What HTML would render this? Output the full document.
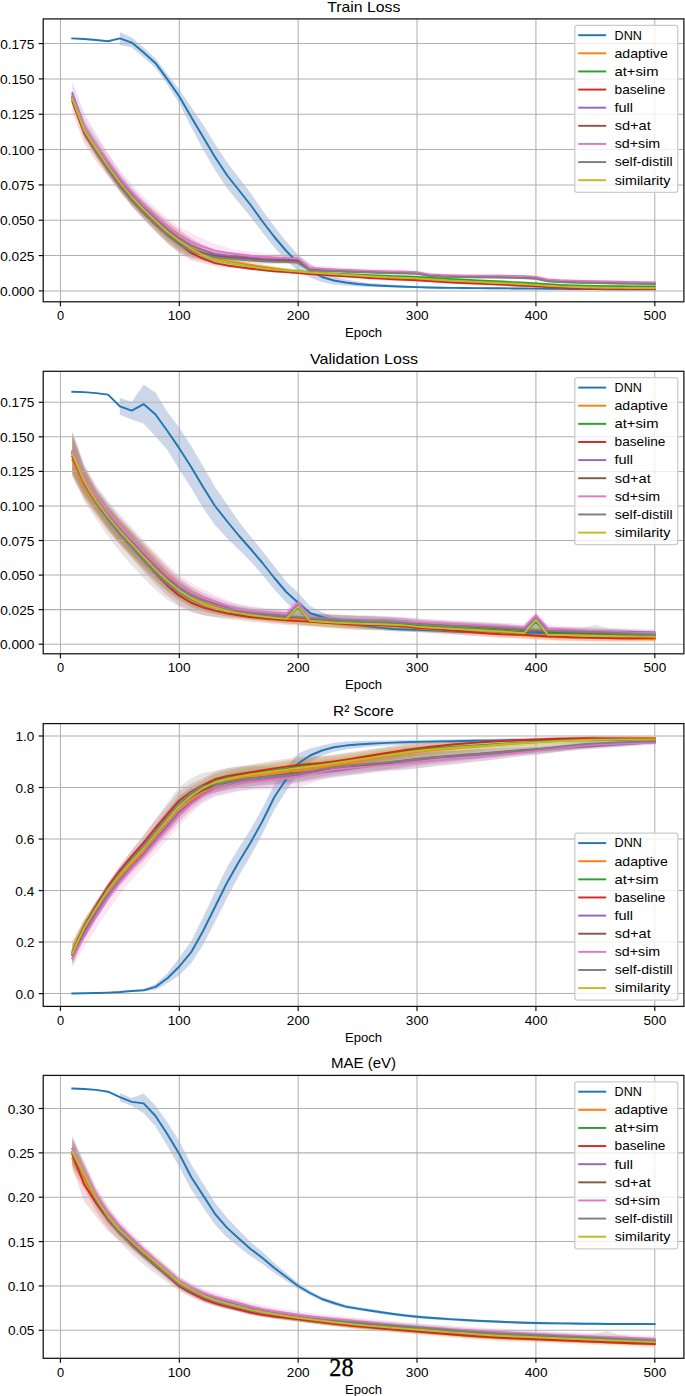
<!DOCTYPE html>
<html><head><meta charset="utf-8"><style>
html,body{margin:0;padding:0;background:#fff;overflow:hidden;width:685px;height:1396px;}
svg{display:block;}
text{font-family:"Liberation Sans",sans-serif;fill:#000;}
.g{stroke:#b0b0b0;stroke-width:1.04;}
.l{stroke-width:1.95;stroke-linejoin:round;stroke-linecap:square;fill:none;}
.sp{fill:none;stroke:#111;stroke-width:1.25;}
.t{stroke:#111;stroke-width:1.2;}
.lg{fill:#fff;fill-opacity:0.8;stroke:#cccccc;stroke-width:1.3;}
text.pn{font-family:"Liberation Serif",serif;}
</style></head><body>
<svg width="685" height="1396" viewBox="0 0 685 1396">
<rect width="685" height="1396" fill="#fff"/>
<clipPath id="c0"><rect x="43.2" y="18.9" width="640.7" height="282.9"/></clipPath>
<g clip-path="url(#c0)">
<polygon points="119.87,31.9 131.76,37.6 143.65,47.5 155.53,58.6 167.42,74.1 179.31,89.5 191.19,107 203.08,124.5 214.97,144 226.86,162 238.74,177.5 250.63,193 262.52,210.5 274.4,226.5 286.29,241.5 298.18,255 310.06,263.5 321.95,272 333.84,276.5 345.72,279.5 357.61,281.59 369.5,283 381.38,284.01 393.27,284.86 405.16,285.58 417.04,286.1 428.93,286.47 440.82,286.74 452.7,286.93 464.59,287.09 476.48,287.22 488.36,287.34 500.25,287.45 512.14,287.55 524.03,287.65 535.91,287.76 547.8,287.88 559.69,288 571.57,288.12 583.46,288.22 595.35,288.29 607.23,288.35 619.12,288.4 631.01,288.45 642.89,288.48 654.78,288.5 654.78,290.1 642.89,290.08 631.01,290.05 619.12,290.01 607.23,289.96 595.35,289.91 583.46,289.84 571.57,289.75 559.69,289.65 547.8,289.54 535.91,289.44 524.03,289.35 512.14,289.27 500.25,289.19 488.36,289.11 476.48,289.02 464.59,288.92 452.7,288.8 440.82,288.66 428.93,288.42 417.04,288.1 405.16,287.79 393.27,287.54 381.38,287.32 369.5,287 357.61,286.41 345.72,285.5 333.84,284.5 321.95,282 310.06,277.5 298.18,271 286.29,260.5 274.4,247.5 262.52,232.5 250.63,217 238.74,202.5 226.86,188 214.97,170 203.08,149.5 191.19,127 179.31,103.5 167.42,84.7 155.53,67.8 143.65,57.5 131.76,47.6 119.87,44.9" fill="#cdd7ea"/>
<polygon points="72.33,93.8 84.21,124.28 96.1,142.4 107.99,160.25 119.87,177 131.76,190.86 143.65,201.82 155.53,211.48 167.42,220.94 179.31,229.6 191.19,238.71 203.08,247.49 214.97,254.3 226.86,257.61 238.74,259.95 250.63,262.25 262.52,264.26 274.4,266.13 286.29,268.03 298.18,269.5 310.06,270.68 321.95,271.61 333.84,272.45 345.72,273.3 357.61,274.15 369.5,274.96 381.38,275.71 393.27,276.36 405.16,276.87 417.04,277.4 428.93,278.24 440.82,279.16 452.7,279.93 464.59,280.64 476.48,281.31 488.36,281.95 500.25,282.59 512.14,283.23 524.03,283.9 535.91,284.61 547.8,285.43 559.69,286.13 571.57,286.56 583.46,286.91 595.35,287.18 607.23,287.38 619.12,287.52 631.01,287.63 642.89,287.7 654.78,287.7 654.78,290.1 642.89,290.1 631.01,290.04 619.12,289.94 607.23,289.81 595.35,289.63 583.46,289.37 571.57,289.05 559.69,288.65 547.8,287.97 535.91,287.19 524.03,286.51 512.14,285.88 500.25,285.28 488.36,284.68 476.48,284.08 464.59,283.45 452.7,282.79 440.82,282.07 428.93,281.2 417.04,280.4 405.16,279.92 393.27,279.47 381.38,278.89 369.5,278.22 357.61,277.49 345.72,276.75 333.84,276.01 321.95,275.3 310.06,274.51 298.18,273.5 286.29,272.3 274.4,270.8 262.52,269.34 250.63,267.71 238.74,265.95 226.86,264.83 214.97,263.3 203.08,259.11 191.19,253.29 179.31,245.6 167.42,236.63 155.53,226.43 143.65,215.87 131.76,204.17 119.87,190 107.99,173.75 96.1,156.4 84.21,137.72 72.33,105.8" fill="#ff7f0e" fill-opacity="0.18"/>
<polygon points="72.33,90.5 84.21,121.35 96.1,139.82 107.99,157.98 119.87,175 131.76,189.61 143.65,202 155.53,213.3 167.42,224.09 179.31,233.3 191.19,241.71 203.08,249.19 214.97,255.3 226.86,258.69 238.74,261.2 250.63,263.67 262.52,265.76 274.4,267.27 286.29,268.46 298.18,269.5 310.06,270.54 321.95,271.29 333.84,271.9 345.72,272.49 357.61,273.08 369.5,273.64 381.38,274.15 393.27,274.6 405.16,274.95 417.04,275.4 428.93,276.19 440.82,277.06 452.7,277.77 464.59,278.43 476.48,279.05 488.36,279.65 500.25,280.24 512.14,280.86 524.03,281.51 535.91,282.21 547.8,283.02 559.69,283.73 571.57,284.15 583.46,284.49 595.35,284.75 607.23,284.95 619.12,285.09 631.01,285.21 642.89,285.28 654.78,285.3 654.78,287.7 642.89,287.68 631.01,287.61 619.12,287.51 607.23,287.38 595.35,287.2 583.46,286.95 571.57,286.64 559.69,286.24 547.8,285.57 535.91,284.79 524.03,284.12 512.14,283.51 500.25,282.93 488.36,282.37 476.48,281.81 464.59,281.24 452.7,280.63 440.82,279.96 428.93,279.14 417.04,278.4 405.16,278.01 393.27,277.71 381.38,277.33 369.5,276.89 357.61,276.42 345.72,275.94 333.84,275.46 321.95,274.97 310.06,274.38 298.18,273.5 286.29,272.74 274.4,271.93 262.52,270.84 250.63,269.13 238.74,267.2 226.86,265.91 214.97,264.3 203.08,260.81 191.19,256.29 179.31,249.3 167.42,239.78 155.53,228.24 143.65,216.06 131.76,202.92 119.87,188 107.99,171.48 96.1,153.82 84.21,134.79 72.33,102.5" fill="#2ca02c" fill-opacity="0.18"/>
<polygon points="72.33,95.4 84.21,126.45 96.1,144.9 107.99,162.89 119.87,179.7 131.76,194.02 143.65,206.07 155.53,217.03 167.42,227.38 179.31,236.3 191.19,245.71 203.08,252.91 214.97,258.6 226.86,261.8 238.74,264.1 250.63,265.99 262.52,267.56 274.4,268.91 286.29,270 298.18,271 310.06,272.09 321.95,272.97 333.84,273.79 345.72,274.63 357.61,275.48 369.5,276.3 381.38,277.06 393.27,277.71 405.16,278.2 417.04,278.7 428.93,279.49 440.82,280.33 452.7,281.01 464.59,281.63 476.48,282.2 488.36,282.75 500.25,283.29 512.14,283.85 524.03,284.45 535.91,285.11 547.8,285.88 559.69,286.54 571.57,286.92 583.46,287.22 595.35,287.45 607.23,287.61 619.12,287.71 631.01,287.79 642.89,287.82 654.78,287.8 654.78,290.2 642.89,290.22 631.01,290.19 619.12,290.13 607.23,290.04 595.35,289.9 583.46,289.69 571.57,289.41 559.69,289.06 547.8,288.43 535.91,287.69 524.03,287.07 512.14,286.5 500.25,285.98 488.36,285.47 476.48,284.97 464.59,284.44 452.7,283.87 440.82,283.23 428.93,282.44 417.04,281.7 405.16,281.26 393.27,280.82 381.38,280.24 369.5,279.56 357.61,278.82 345.72,278.03 333.84,277.2 321.95,276.36 310.06,275.43 298.18,274.29 286.29,273.35 274.4,272.44 262.52,271.37 250.63,270.13 238.74,268.74 226.86,267.56 214.97,266.03 203.08,263.32 191.19,260.27 179.31,253.1 167.42,243.61 155.53,231.93 143.65,219.47 131.76,206.2 119.87,191.4 107.99,176.54 96.1,161.35 84.21,143.56 72.33,111.6" fill="#d62728" fill-opacity="0.18"/>
<polygon points="72.33,81.3 84.21,113.52 96.1,133.5 107.99,153.43 119.87,171.86 131.76,186.96 143.65,199.41 155.53,210.68 167.42,221.35 179.31,230.3 191.19,238.05 203.08,244.49 214.97,249.5 226.86,251.79 238.74,253.2 250.63,254.67 262.52,255.86 274.4,256.46 286.29,256.83 298.18,257.5 310.06,266.78 321.95,267.58 333.84,268.21 345.72,268.78 357.61,269.32 369.5,269.82 381.38,270.26 393.27,270.66 405.16,270.97 417.04,271.4 428.93,273.69 440.82,274.43 452.7,274.81 464.59,274.98 476.48,275.04 488.36,275.04 500.25,275.07 512.14,275.21 524.03,275.53 535.91,276.11 547.8,278.93 559.69,279.77 571.57,280.32 583.46,280.77 595.35,281.13 607.23,281.41 619.12,281.62 631.01,281.8 642.89,281.93 654.78,282 654.78,284.4 642.89,284.33 631.01,284.21 619.12,284.04 607.23,283.84 595.35,283.58 583.46,283.23 571.57,282.81 559.69,282.29 547.8,281.47 535.91,278.69 524.03,278.14 512.14,277.86 500.25,277.76 488.36,277.77 476.48,277.8 464.59,277.8 452.7,277.66 440.82,277.33 428.93,276.64 417.04,274.4 405.16,274.02 393.27,273.77 381.38,273.44 369.5,273.07 357.61,272.66 345.72,272.23 333.84,271.76 321.95,271.27 310.06,270.62 298.18,261.5 286.29,261.1 274.4,261.13 262.52,260.94 250.63,260.13 238.74,259.2 226.86,259.01 214.97,258.5 203.08,256.11 191.19,252.64 179.31,246.3 167.42,237.17 155.53,226.07 143.65,214.34 131.76,201.61 119.87,187 107.99,170.43 96.1,152.4 84.21,132.7 72.33,99.3" fill="#9467bd" fill-opacity="0.2"/>
<polygon points="72.33,91.8 84.21,123.36 96.1,142.44 107.99,160.98 119.87,178 131.76,192.34 143.65,204.47 155.53,215.53 167.42,226.16 179.31,235.3 191.19,242.49 203.08,247.42 214.97,251.3 226.86,253.33 238.74,254.7 250.63,256.15 262.52,257.36 274.4,257.96 286.29,258.33 298.18,259 310.06,267.58 321.95,268.37 333.84,268.97 345.72,269.5 357.61,270 369.5,270.44 381.38,270.84 393.27,271.2 405.16,271.48 417.04,271.9 428.93,273.89 440.82,274.64 452.7,275.05 464.59,275.26 476.48,275.36 488.36,275.42 500.25,275.5 512.14,275.67 524.03,276.02 535.91,276.61 547.8,279.43 559.69,280.2 571.57,280.68 583.46,281.08 595.35,281.4 607.23,281.65 619.12,281.84 631.01,282.01 642.89,282.13 654.78,282.2 654.78,284.6 642.89,284.53 631.01,284.41 619.12,284.26 607.23,284.08 595.35,283.85 583.46,283.54 571.57,283.17 559.69,282.71 547.8,281.97 535.91,279.19 524.03,278.63 512.14,278.32 500.25,278.18 488.36,278.14 476.48,278.13 464.59,278.07 452.7,277.9 440.82,277.54 428.93,276.84 417.04,274.9 405.16,274.53 393.27,274.31 381.38,274.02 369.5,273.7 357.61,273.34 345.72,272.95 333.84,272.53 321.95,272.06 310.06,271.42 298.18,263 286.29,262.6 274.4,262.63 262.52,262.44 250.63,261.61 238.74,260.7 226.86,260.55 214.97,260.3 203.08,259.04 191.19,257.07 179.31,251.3 167.42,241.84 155.53,230.47 143.65,218.53 131.76,205.66 119.87,191 107.99,174.48 96.1,156.44 84.21,136.8 72.33,103.8" fill="#8c564b" fill-opacity="0.18"/>
<polygon points="72.33,89.8 84.21,119.37 96.1,136.64 107.99,153.75 119.87,170.03 131.76,184.26 143.65,196.48 155.53,207.63 167.42,218.08 179.31,226.7 191.19,233.34 203.08,238.68 214.97,243.95 226.86,247.65 238.74,250.25 250.63,251.86 262.52,253 274.4,253.93 286.29,254.65 298.18,255.5 310.06,265.14 321.95,266.07 333.84,266.93 345.72,267.68 357.61,268.25 369.5,268.7 381.38,269.11 393.27,269.55 405.16,269.94 417.04,270.4 428.93,272.62 440.82,273.39 452.7,273.83 464.59,274.07 476.48,274.19 488.36,274.27 500.25,274.37 512.14,274.56 524.03,274.93 535.91,275.53 547.8,278.16 559.69,278.89 571.57,279.34 583.46,279.72 595.35,280.02 607.23,280.26 619.12,280.46 631.01,280.7 642.89,280.97 654.78,281.2 654.78,283.6 642.89,283.37 631.01,283.11 619.12,282.88 607.23,282.71 595.35,282.49 583.46,282.21 571.57,281.87 559.69,281.46 547.8,280.77 535.91,278.19 524.03,277.63 512.14,277.32 500.25,277.18 488.36,277.14 476.48,277.13 464.59,277.07 452.7,276.9 440.82,276.54 428.93,275.84 417.04,273.7 405.16,273.33 393.27,273.06 381.38,272.75 369.5,272.49 357.61,272.21 345.72,271.83 333.84,271.28 321.95,270.63 310.06,269.92 298.18,260.5 286.29,259.99 274.4,259.77 262.52,259.34 250.63,258.45 238.74,257.3 226.86,256.41 214.97,255.2 203.08,252.45 191.19,248.87 179.31,242.7 167.42,233.89 155.53,222.97 143.65,211.22 131.76,198.47 119.87,184 107.99,168.19 96.1,151.4 84.21,133.22 72.33,101.8" fill="#e377c2" fill-opacity="0.18"/>
<polygon points="72.33,91.8 84.21,124.84 96.1,144.4 107.99,162.75 119.87,179.7 131.76,193.86 143.65,205.65 155.53,216.53 167.42,227.41 179.31,236.8 191.19,243.96 203.08,248.87 214.97,252.8 226.86,255.02 238.74,256.5 250.63,257.75 262.52,258.76 274.4,259.37 286.29,259.79 298.18,260.5 310.06,268.28 321.95,268.87 333.84,269.22 345.72,269.71 357.61,270.22 369.5,270.71 381.38,271.16 393.27,271.54 405.16,271.76 417.04,272.1 428.93,274.19 440.82,274.96 452.7,275.41 464.59,275.69 476.48,275.87 488.36,276.01 500.25,276.17 512.14,276.41 524.03,276.8 535.91,277.41 547.8,280.03 559.69,280.74 571.57,281.18 583.46,281.54 595.35,281.84 607.23,282.08 619.12,282.26 631.01,282.41 642.89,282.53 654.78,282.6 654.78,285 642.89,284.93 631.01,284.82 619.12,284.67 607.23,284.51 595.35,284.29 583.46,284.01 571.57,283.67 559.69,283.26 547.8,282.57 535.91,279.99 524.03,279.42 512.14,279.06 500.25,278.85 488.36,278.73 476.48,278.64 464.59,278.5 452.7,278.27 440.82,277.86 428.93,277.14 417.04,275.1 405.16,274.81 393.27,274.66 381.38,274.34 369.5,273.97 357.61,273.56 345.72,273.16 333.84,272.78 321.95,272.56 310.06,272.12 298.18,264.5 286.29,264.06 274.4,264.03 262.52,263.84 250.63,263.21 238.74,262.5 226.86,262.25 214.97,261.8 203.08,260.48 191.19,258.55 179.31,252.8 167.42,242.93 155.53,230.95 143.65,218.8 131.76,205.98 119.87,191.4 107.99,175 96.1,157.39 84.21,137.73 72.33,103.8" fill="#7f7f7f" fill-opacity="0.2"/>
<polygon points="72.33,92.8 84.21,123.28 96.1,141.4 107.99,159.25 119.87,176 131.76,190.34 143.65,202.47 155.53,213.53 167.42,224.16 179.31,233.3 191.19,241.71 203.08,249.19 214.97,255.3 226.86,258.69 238.74,261.2 250.63,263.67 262.52,265.76 274.4,267.27 286.29,268.46 298.18,269.5 310.06,270.58 321.95,271.44 333.84,272.22 345.72,273.02 357.61,273.83 369.5,274.61 381.38,275.32 393.27,275.94 405.16,276.41 417.04,276.9 428.93,277.69 440.82,278.55 452.7,279.25 464.59,279.89 476.48,280.5 488.36,281.08 500.25,281.67 512.14,282.27 524.03,282.91 535.91,283.61 547.8,284.43 559.69,285.14 571.57,285.58 583.46,285.94 595.35,286.24 607.23,286.48 619.12,286.66 631.01,286.81 642.89,286.93 654.78,287 654.78,289.4 642.89,289.33 631.01,289.22 619.12,289.07 607.23,288.91 595.35,288.69 583.46,288.41 571.57,288.07 559.69,287.66 547.8,286.97 535.91,286.19 524.03,285.52 512.14,284.92 500.25,284.35 488.36,283.81 476.48,283.26 464.59,282.7 452.7,282.11 440.82,281.45 428.93,280.64 417.04,279.9 405.16,279.46 393.27,279.06 381.38,278.5 369.5,277.86 357.61,277.17 345.72,276.47 333.84,275.78 321.95,275.13 310.06,274.42 298.18,273.5 286.29,272.74 274.4,271.93 262.52,270.84 250.63,269.13 238.74,267.2 226.86,265.91 214.97,264.3 203.08,260.81 191.19,256.29 179.31,249.3 167.42,239.84 155.53,228.47 143.65,216.53 131.76,203.66 119.87,189 107.99,172.75 96.1,155.4 84.21,136.72 72.33,104.8" fill="#bcbd22" fill-opacity="0.18"/>
<line x1="60.44" y1="18.9" x2="60.44" y2="301.8" class="g"/>
<line x1="179.31" y1="18.9" x2="179.31" y2="301.8" class="g"/>
<line x1="298.18" y1="18.9" x2="298.18" y2="301.8" class="g"/>
<line x1="417.04" y1="18.9" x2="417.04" y2="301.8" class="g"/>
<line x1="535.91" y1="18.9" x2="535.91" y2="301.8" class="g"/>
<line x1="654.78" y1="18.9" x2="654.78" y2="301.8" class="g"/>
<line x1="43.2" y1="290.9" x2="683.9" y2="290.9" class="g"/>
<line x1="43.2" y1="255.57" x2="683.9" y2="255.57" class="g"/>
<line x1="43.2" y1="220.24" x2="683.9" y2="220.24" class="g"/>
<line x1="43.2" y1="184.91" x2="683.9" y2="184.91" class="g"/>
<line x1="43.2" y1="149.58" x2="683.9" y2="149.58" class="g"/>
<line x1="43.2" y1="114.25" x2="683.9" y2="114.25" class="g"/>
<line x1="43.2" y1="78.92" x2="683.9" y2="78.92" class="g"/>
<line x1="43.2" y1="43.59" x2="683.9" y2="43.59" class="g"/>
<polyline points="72.33,38.4 84.21,39 96.1,40 107.99,41.2 119.87,38.4 131.76,42.6 143.65,52.5 155.53,63.2 167.42,79.4 179.31,96.5 191.19,117 203.08,137 214.97,157 226.86,175 238.74,190 250.63,205 262.52,221.5 274.4,237 286.29,251 298.18,263 310.06,270.5 321.95,277 333.84,280.5 345.72,282.5 357.61,284 369.5,285 381.38,285.66 393.27,286.2 405.16,286.69 417.04,287.1 428.93,287.45 440.82,287.7 452.7,287.86 464.59,288 476.48,288.12 488.36,288.22 500.25,288.32 512.14,288.41 524.03,288.5 535.91,288.6 547.8,288.71 559.69,288.82 571.57,288.93 583.46,289.03 595.35,289.1 607.23,289.16 619.12,289.21 631.01,289.25 642.89,289.28 654.78,289.3" fill="none" stroke="#1f77b4" class="l"/>
<polyline points="72.33,99.8 84.21,131 96.1,149.4 107.99,167 119.87,183.5 131.76,197.51 143.65,208.85 155.53,218.95 167.42,228.79 179.31,237.6 191.19,246 203.08,253.3 214.97,258.8 226.86,261.22 238.74,262.95 250.63,264.98 262.52,266.8 274.4,268.47 286.29,270.16 298.18,271.5 310.06,272.6 321.95,273.46 333.84,274.23 345.72,275.03 357.61,275.82 369.5,276.59 381.38,277.3 393.27,277.92 405.16,278.39 417.04,278.9 428.93,279.72 440.82,280.62 452.7,281.36 464.59,282.05 476.48,282.69 488.36,283.32 500.25,283.93 512.14,284.56 524.03,285.21 535.91,285.9 547.8,286.7 559.69,287.39 571.57,287.8 583.46,288.14 595.35,288.4 607.23,288.6 619.12,288.73 631.01,288.84 642.89,288.9 654.78,288.9" fill="none" stroke="#ff7f0e" class="l"/>
<polyline points="72.33,96.5 84.21,128.07 96.1,146.82 107.99,164.73 119.87,181.5 131.76,196.26 143.65,209.03 155.53,220.77 167.42,231.94 179.31,241.3 191.19,249 203.08,255 214.97,259.8 226.86,262.3 238.74,264.2 250.63,266.4 262.52,268.3 274.4,269.6 286.29,270.6 298.18,271.5 310.06,272.46 321.95,273.13 333.84,273.68 345.72,274.22 357.61,274.75 369.5,275.26 381.38,275.74 393.27,276.16 405.16,276.48 417.04,276.9 428.93,277.67 440.82,278.51 452.7,279.2 464.59,279.83 476.48,280.43 488.36,281.01 500.25,281.59 512.14,282.18 524.03,282.81 535.91,283.5 547.8,284.3 559.69,284.98 571.57,285.39 583.46,285.72 595.35,285.98 607.23,286.17 619.12,286.3 631.01,286.41 642.89,286.48 654.78,286.5" fill="none" stroke="#2ca02c" class="l"/>
<polyline points="72.33,101.4 84.21,133.17 96.1,151.9 107.99,169.64 119.87,186.2 131.76,200.67 143.65,213.1 155.53,224.5 167.42,235.22 179.31,244.3 191.19,253 203.08,258.71 214.97,263.1 226.86,265.41 238.74,267.1 250.63,268.72 262.52,270.1 274.4,271.24 286.29,272.14 298.18,273 310.06,274.01 321.95,274.82 333.84,275.56 345.72,276.35 357.61,277.15 369.5,277.93 381.38,278.65 393.27,279.27 405.16,279.73 417.04,280.2 428.93,280.96 440.82,281.78 452.7,282.44 464.59,283.03 476.48,283.58 488.36,284.11 500.25,284.64 512.14,285.18 524.03,285.76 535.91,286.4 547.8,287.15 559.69,287.8 571.57,288.17 583.46,288.46 595.35,288.67 607.23,288.83 619.12,288.92 631.01,288.99 642.89,289.02 654.78,289" fill="none" stroke="#d62728" class="l"/>
<polyline points="72.33,93.3 84.21,125.98 96.1,145.4 107.99,163.68 119.87,180.5 131.76,194.95 143.65,207.32 155.53,218.6 167.42,229.33 179.31,238.3 191.19,245.34 203.08,250.3 214.97,254 226.86,255.4 238.74,256.2 250.63,257.4 262.52,258.4 274.4,258.79 286.29,258.96 298.18,259.5 310.06,268.7 321.95,269.43 333.84,269.99 345.72,270.5 357.61,270.99 369.5,271.44 381.38,271.85 393.27,272.21 405.16,272.5 417.04,272.9 428.93,275.17 440.82,275.88 452.7,276.24 464.59,276.39 476.48,276.42 488.36,276.4 500.25,276.42 512.14,276.53 524.03,276.84 535.91,277.4 547.8,280.2 559.69,281.03 571.57,281.56 583.46,282 595.35,282.35 607.23,282.63 619.12,282.83 631.01,283 642.89,283.13 654.78,283.2" fill="none" stroke="#9467bd" class="l"/>
<polyline points="72.33,97.8 84.21,130.08 96.1,149.44 107.99,167.73 119.87,184.5 131.76,199 143.65,211.5 155.53,223 167.42,234 179.31,243.3 191.19,249.78 203.08,253.23 214.97,255.8 226.86,256.94 238.74,257.7 250.63,258.88 262.52,259.9 274.4,260.29 286.29,260.46 298.18,261 310.06,269.5 321.95,270.22 333.84,270.75 345.72,271.23 357.61,271.67 369.5,272.07 381.38,272.43 393.27,272.75 405.16,273.01 417.04,273.4 428.93,275.37 440.82,276.09 452.7,276.47 464.59,276.67 476.48,276.75 488.36,276.78 500.25,276.84 512.14,277 524.03,277.33 535.91,277.9 547.8,280.7 559.69,281.45 571.57,281.92 583.46,282.31 595.35,282.62 607.23,282.87 619.12,283.05 631.01,283.21 642.89,283.33 654.78,283.4" fill="none" stroke="#8c564b" class="l"/>
<polyline points="72.33,95.8 84.21,126.5 96.1,144.4 107.99,161.44 119.87,177.5 131.76,191.81 143.65,204.19 155.53,215.5 167.42,226.05 179.31,234.7 191.19,241.58 203.08,246.64 214.97,250.7 226.86,252.8 238.74,254.3 250.63,255.72 262.52,256.8 274.4,257.43 286.29,257.85 298.18,258.5 310.06,268 321.95,268.79 333.84,269.5 345.72,270.11 357.61,270.54 369.5,270.86 381.38,271.16 393.27,271.5 405.16,271.8 417.04,272.2 428.93,274.37 440.82,275.09 452.7,275.47 464.59,275.67 476.48,275.75 488.36,275.78 500.25,275.84 512.14,276 524.03,276.33 535.91,276.9 547.8,279.5 559.69,280.2 571.57,280.63 583.46,280.98 595.35,281.26 607.23,281.49 619.12,281.67 631.01,281.91 642.89,282.17 654.78,282.4" fill="none" stroke="#e377c2" class="l"/>
<polyline points="72.33,97.8 84.21,131.56 96.1,151.4 107.99,169.5 119.87,186.2 131.76,200.52 143.65,212.68 155.53,224 167.42,235.25 179.31,244.8 191.19,251.25 203.08,254.67 214.97,257.3 226.86,258.63 238.74,259.5 250.63,260.48 262.52,261.3 274.4,261.7 286.29,261.93 298.18,262.5 310.06,270.2 321.95,270.71 333.84,271 345.72,271.43 357.61,271.89 369.5,272.34 381.38,272.75 393.27,273.1 405.16,273.28 417.04,273.6 428.93,275.67 440.82,276.41 452.7,276.84 464.59,277.1 476.48,277.25 488.36,277.37 500.25,277.51 512.14,277.73 524.03,278.11 535.91,278.7 547.8,281.3 559.69,282 571.57,282.43 583.46,282.78 595.35,283.06 607.23,283.29 619.12,283.47 631.01,283.62 642.89,283.73 654.78,283.8" fill="none" stroke="#7f7f7f" class="l"/>
<polyline points="72.33,98.8 84.21,130 96.1,148.4 107.99,166 119.87,182.5 131.76,197 143.65,209.5 155.53,221 167.42,232 179.31,241.3 191.19,249 203.08,255 214.97,259.8 226.86,262.3 238.74,264.2 250.63,266.4 262.52,268.3 274.4,269.6 286.29,270.6 298.18,271.5 310.06,272.5 321.95,273.29 333.84,274 345.72,274.74 357.61,275.5 369.5,276.23 381.38,276.91 393.27,277.5 405.16,277.94 417.04,278.4 428.93,279.17 440.82,280 452.7,280.68 464.59,281.3 476.48,281.88 488.36,282.44 500.25,283.01 512.14,283.59 524.03,284.22 535.91,284.9 547.8,285.7 559.69,286.4 571.57,286.83 583.46,287.18 595.35,287.46 607.23,287.69 619.12,287.87 631.01,288.02 642.89,288.13 654.78,288.2" fill="none" stroke="#bcbd22" class="l"/>
</g>
<rect x="43.2" y="18.9" width="640.7" height="282.9" class="sp"/>
<line x1="60.44" y1="301.8" x2="60.44" y2="306.35" class="t"/>
<text x="56.96" y="320" font-size="12.93" textLength="7.15" lengthAdjust="spacingAndGlyphs">0</text>
<line x1="179.31" y1="301.8" x2="179.31" y2="306.35" class="t"/>
<text x="167.8" y="320" font-size="12.93" textLength="22.7" lengthAdjust="spacingAndGlyphs">100</text>
<line x1="298.18" y1="301.8" x2="298.18" y2="306.35" class="t"/>
<text x="286.8" y="320" font-size="12.93" textLength="22.8" lengthAdjust="spacingAndGlyphs">200</text>
<line x1="417.04" y1="301.8" x2="417.04" y2="306.35" class="t"/>
<text x="405.86" y="320" font-size="12.93" textLength="22.59" lengthAdjust="spacingAndGlyphs">300</text>
<line x1="535.91" y1="301.8" x2="535.91" y2="306.35" class="t"/>
<text x="524.76" y="320" font-size="12.93" textLength="22.72" lengthAdjust="spacingAndGlyphs">400</text>
<line x1="654.78" y1="301.8" x2="654.78" y2="306.35" class="t"/>
<text x="643.57" y="320" font-size="12.93" textLength="22.61" lengthAdjust="spacingAndGlyphs">500</text>
<line x1="38.65" y1="290.9" x2="43.2" y2="290.9" class="t"/>
<text x="-0.05" y="295.9" font-size="12.93" textLength="34.39" lengthAdjust="spacingAndGlyphs">0.000</text>
<line x1="38.65" y1="255.57" x2="43.2" y2="255.57" class="t"/>
<text x="0.21" y="260.57" font-size="12.93" textLength="34.16" lengthAdjust="spacingAndGlyphs">0.025</text>
<line x1="38.65" y1="220.24" x2="43.2" y2="220.24" class="t"/>
<text x="-0.05" y="225.24" font-size="12.93" textLength="34.39" lengthAdjust="spacingAndGlyphs">0.050</text>
<line x1="38.65" y1="184.91" x2="43.2" y2="184.91" class="t"/>
<text x="0.21" y="189.91" font-size="12.93" textLength="34.16" lengthAdjust="spacingAndGlyphs">0.075</text>
<line x1="38.65" y1="149.58" x2="43.2" y2="149.58" class="t"/>
<text x="-0.05" y="154.58" font-size="12.93" textLength="34.39" lengthAdjust="spacingAndGlyphs">0.100</text>
<line x1="38.65" y1="114.25" x2="43.2" y2="114.25" class="t"/>
<text x="0.21" y="119.25" font-size="12.93" textLength="34.16" lengthAdjust="spacingAndGlyphs">0.125</text>
<line x1="38.65" y1="78.92" x2="43.2" y2="78.92" class="t"/>
<text x="-0.05" y="83.92" font-size="12.93" textLength="34.39" lengthAdjust="spacingAndGlyphs">0.150</text>
<line x1="38.65" y1="43.59" x2="43.2" y2="43.59" class="t"/>
<text x="0.21" y="48.59" font-size="12.93" textLength="34.16" lengthAdjust="spacingAndGlyphs">0.175</text>
<text x="345.07" y="337.1" font-size="12.93" textLength="37.04" lengthAdjust="spacingAndGlyphs">Epoch</text>
<text x="327.26" y="11.5" font-size="15.21" textLength="73.09" lengthAdjust="spacingAndGlyphs">Train Loss</text>
<rect x="574.8" y="25.3" width="103" height="167" rx="2.6" class="lg"/>
<line x1="579.2" y1="35.2" x2="605.2" y2="35.2" stroke="#1f77b4" class="l"/>
<text x="614.56" y="39.5" font-size="12.93" textLength="27.31" lengthAdjust="spacingAndGlyphs">DNN</text>
<line x1="579.2" y1="53.32" x2="605.2" y2="53.32" stroke="#ff7f0e" class="l"/>
<text x="614.54" y="57.62" font-size="12.93" textLength="53.18" lengthAdjust="spacingAndGlyphs">adaptive</text>
<line x1="579.2" y1="71.45" x2="605.2" y2="71.45" stroke="#2ca02c" class="l"/>
<text x="614.5" y="75.75" font-size="12.93" textLength="43.94" lengthAdjust="spacingAndGlyphs">at+sim</text>
<line x1="579.2" y1="89.57" x2="605.2" y2="89.57" stroke="#d62728" class="l"/>
<text x="614.63" y="93.87" font-size="12.93" textLength="50.83" lengthAdjust="spacingAndGlyphs">baseline</text>
<line x1="579.2" y1="107.7" x2="605.2" y2="107.7" stroke="#9467bd" class="l"/>
<text x="614.47" y="112" font-size="12.93" textLength="18.56" lengthAdjust="spacingAndGlyphs">full</text>
<line x1="579.2" y1="125.82" x2="605.2" y2="125.82" stroke="#8c564b" class="l"/>
<text x="614.65" y="130.12" font-size="12.93" textLength="36.14" lengthAdjust="spacingAndGlyphs">sd+at</text>
<line x1="579.2" y1="143.95" x2="605.2" y2="143.95" stroke="#e377c2" class="l"/>
<text x="614.66" y="148.25" font-size="12.93" textLength="45.59" lengthAdjust="spacingAndGlyphs">sd+sim</text>
<line x1="579.2" y1="162.07" x2="605.2" y2="162.07" stroke="#7f7f7f" class="l"/>
<text x="614.67" y="166.38" font-size="12.93" textLength="57.92" lengthAdjust="spacingAndGlyphs">self-distill</text>
<line x1="579.2" y1="180.2" x2="605.2" y2="180.2" stroke="#bcbd22" class="l"/>
<text x="614.66" y="184.5" font-size="12.93" textLength="55.7" lengthAdjust="spacingAndGlyphs">similarity</text>
<clipPath id="c1"><rect x="43.2" y="371.3" width="640.7" height="282.5"/></clipPath>
<g clip-path="url(#c1)">
<polygon points="119.87,397.9 131.76,402 143.65,384.4 155.53,392.5 167.42,412 179.31,427.4 191.19,446 203.08,466 214.97,487 226.86,504 238.74,521.5 250.63,536.5 262.52,551 274.4,566.5 286.29,581.5 298.18,592.8 310.06,606 321.95,612 333.84,617 345.72,619.9 357.61,622 369.5,623.78 381.38,625.44 393.27,626.74 405.16,627.48 417.04,627.9 428.93,628.39 440.82,628.96 452.7,629.56 464.59,630.12 476.48,630.61 488.36,630.95 500.25,631.1 512.14,630.93 524.03,630.76 535.91,631.18 547.8,631.7 559.69,632.12 571.57,632.53 583.46,632.91 595.35,633.27 607.23,633.6 619.12,633.9 631.01,634.15 642.89,634.35 654.78,634.5 654.78,637.5 642.89,637.35 631.01,637.16 619.12,636.92 607.23,636.64 595.35,636.33 583.46,636 571.57,635.64 559.69,635.27 547.8,634.9 535.91,634.42 524.03,634.04 512.14,634.27 500.25,634.5 488.36,634.42 476.48,634.15 464.59,633.75 452.7,633.27 440.82,632.76 428.93,632.29 417.04,631.9 405.16,631.66 393.27,631.23 381.38,630.35 369.5,629.2 357.61,628 345.72,626.7 333.84,625 321.95,622 310.06,620 298.18,612.8 286.29,602.5 274.4,589.5 262.52,575 250.63,561.5 238.74,549.5 226.86,538 214.97,525 203.08,508 191.19,488 179.31,469.4 167.42,450 155.53,436.5 143.65,423.8 131.76,419.4 119.87,414.7" fill="#cdd7ea"/>
<polygon points="72.33,440 84.21,472.5 96.1,492.71 107.99,507.28 119.87,520.13 131.76,531.05 143.65,542.06 155.53,553.61 167.42,566.16 179.31,578.2 191.19,587.05 203.08,594.02 214.97,599.36 226.86,603.99 238.74,607.17 250.63,609.52 262.52,611.38 274.4,612.97 286.29,614.3 298.18,615.16 310.06,616.48 321.95,617.43 333.84,618.26 345.72,618.99 357.61,619.66 369.5,620.3 381.38,620.96 393.27,621.71 405.16,622.74 417.04,624.2 428.93,625.18 440.82,626.02 452.7,626.78 464.59,627.49 476.48,628.2 488.36,628.96 500.25,629.81 512.14,630.85 524.03,631.88 535.91,632.68 547.8,633.47 559.69,633.9 571.57,634.24 583.46,634.53 595.35,634.8 607.23,635.1 619.12,635.39 631.01,635.67 642.89,635.94 654.78,636.2 654.78,642.2 642.89,642.04 631.01,641.87 619.12,641.69 607.23,641.5 595.35,641.3 583.46,641.13 571.57,640.94 559.69,640.7 547.8,640.37 535.91,639.68 524.03,638.98 512.14,638.03 500.25,637.06 488.36,636.29 476.48,635.61 464.59,634.99 452.7,634.37 440.82,633.73 428.93,633.02 417.04,632.2 405.16,631.06 393.27,630.54 381.38,630.34 369.5,630.12 357.61,629.66 345.72,628.91 333.84,628 321.95,626.93 310.06,625.74 298.18,624.24 286.29,623.3 274.4,622.04 262.52,620.65 250.63,619.1 238.74,617.17 226.86,615.22 214.97,612.6 203.08,609.17 191.19,604.24 179.31,597.2 167.42,586.8 155.53,575.88 143.65,565.57 131.76,555.05 119.87,543.87 107.99,530.54 96.1,515.71 84.21,499.72 72.33,477" fill="#ff7f0e" fill-opacity="0.18"/>
<polygon points="72.33,432.7 84.21,466.56 96.1,488.12 107.99,504.04 119.87,518.36 131.76,531.28 143.65,544.59 155.53,557.76 167.42,570.12 179.31,580.6 191.19,588.96 203.08,595.55 214.97,600.57 226.86,604.94 238.74,607.92 250.63,610.08 262.52,611.79 274.4,613.23 286.29,614.39 298.18,603.06 310.06,616.14 321.95,616.82 333.84,617.33 345.72,617.74 357.61,618.1 369.5,618.44 381.38,618.83 393.27,619.37 405.16,620.24 417.04,621.6 428.93,622.51 440.82,623.29 452.7,623.98 464.59,624.62 476.48,625.28 488.36,625.98 500.25,626.77 512.14,627.77 524.03,628.75 535.91,618.5 547.8,630.26 559.69,630.68 571.57,631.01 583.46,631.31 595.35,631.62 607.23,631.95 619.12,632.3 631.01,632.64 642.89,632.97 654.78,633.3 654.78,639.3 642.89,639.07 631.01,638.84 619.12,638.6 607.23,638.35 595.35,638.12 583.46,637.91 571.57,637.71 559.69,637.48 547.8,637.16 535.91,636.5 524.03,635.85 512.14,634.95 500.25,634.03 488.36,633.31 476.48,632.69 464.59,632.12 452.7,631.57 440.82,631 428.93,630.35 417.04,629.6 405.16,628.56 393.27,628.19 381.38,628.21 369.5,628.26 357.61,628.1 345.72,627.67 333.84,627.07 321.95,626.32 310.06,625.4 298.18,624.14 286.29,623.39 274.4,622.3 262.52,621.06 250.63,619.67 238.74,617.92 226.86,616.17 214.97,613.8 203.08,610.69 191.19,606.15 179.31,599.6 167.42,590.77 155.53,580.03 143.65,568.09 131.76,555.28 119.87,542.1 107.99,527.3 96.1,511.12 84.21,494.56 72.33,472.7" fill="#2ca02c" fill-opacity="0.18"/>
<polygon points="72.33,436.7 84.21,469.82 96.1,491 107.99,506.87 119.87,521.13 131.76,534.04 143.65,547.93 155.53,562.08 167.42,575.35 179.31,586.2 191.19,594.15 203.08,599.89 214.97,604.03 226.86,607.78 238.74,610.3 250.63,612.15 262.52,613.58 274.4,614.82 286.29,615.9 298.18,616.56 310.06,616.87 321.95,617.68 333.84,618.45 345.72,619.13 357.61,619.7 369.5,620.19 381.38,620.71 393.27,621.36 405.16,622.31 417.04,623.7 428.93,624.71 440.82,625.75 452.7,626.79 464.59,627.82 476.48,628.82 488.36,629.78 500.25,630.67 512.14,630.92 524.03,631.15 535.91,631.95 547.8,632.84 559.69,633.41 571.57,633.9 583.46,634.31 595.35,634.65 607.23,634.91 619.12,635.05 631.01,635.08 642.89,635.02 654.78,634.9 654.78,640.9 642.89,641.12 631.01,641.28 619.12,641.35 607.23,641.31 595.35,641.15 583.46,640.91 571.57,640.6 559.69,640.21 547.8,639.74 535.91,638.95 524.03,638.25 512.14,638.1 500.25,637.93 488.36,637.11 476.48,636.23 464.59,635.31 452.7,634.38 440.82,633.45 428.93,632.55 417.04,631.7 405.16,630.63 393.27,630.19 381.38,630.09 369.5,630.01 357.61,629.7 345.72,629.06 333.84,628.19 321.95,627.18 310.06,626.13 298.18,625.64 286.29,624.9 274.4,623.89 262.52,622.85 250.63,621.73 238.74,620.3 226.86,619.01 214.97,617.26 203.08,615.03 191.19,611.34 179.31,605.2 167.42,596 155.53,584.35 143.65,571.43 131.76,558.04 119.87,544.87 107.99,530.13 96.1,514 84.21,497.82 72.33,476.7" fill="#d62728" fill-opacity="0.18"/>
<polygon points="72.33,431.2 84.21,464.99 96.1,486.47 107.99,502.3 119.87,516.52 131.76,529.33 143.65,542.5 155.53,555.54 167.42,567.77 179.31,578.1 191.19,586.21 203.08,592.45 214.97,597.21 226.86,601.5 238.74,604.5 250.63,606.75 262.52,608.56 274.4,610.11 286.29,611.36 298.18,600.06 310.06,613.15 321.95,613.83 333.84,614.35 345.72,614.78 357.61,615.14 369.5,615.49 381.38,615.88 393.27,616.41 405.16,617.27 417.04,618.6 428.93,619.48 440.82,620.22 452.7,620.88 464.59,621.49 476.48,622.11 488.36,622.78 500.25,623.55 512.14,624.52 524.03,625.49 535.91,614.21 547.8,626.94 559.69,627.32 571.57,627.61 583.46,627.85 595.35,628.09 607.23,628.36 619.12,628.62 631.01,628.89 642.89,629.15 654.78,629.4 654.78,635.4 642.89,635.25 631.01,635.09 619.12,634.92 607.23,634.76 595.35,634.59 583.46,634.45 571.57,634.31 559.69,634.12 547.8,633.84 535.91,633.21 524.03,632.58 512.14,631.7 500.25,630.81 488.36,630.12 476.48,629.52 464.59,628.99 452.7,628.47 440.82,627.93 428.93,627.32 417.04,626.6 405.16,625.59 393.27,625.24 381.38,625.26 369.5,625.31 357.61,625.14 345.72,624.7 333.84,624.09 321.95,623.33 310.06,622.4 298.18,621.14 286.29,620.36 274.4,619.18 262.52,617.83 250.63,616.33 238.74,614.5 226.86,612.73 214.97,610.44 203.08,607.6 191.19,603.4 179.31,597.1 167.42,588.42 155.53,577.81 143.65,566.01 131.76,553.33 119.87,540.26 107.99,525.56 96.1,509.47 84.21,492.99 72.33,471.2" fill="#9467bd" fill-opacity="0.2"/>
<polygon points="72.33,433.7 84.21,467.8 96.1,489.53 107.99,505.57 119.87,519.96 131.76,532.91 143.65,546.21 155.53,559.35 167.42,571.68 179.31,582.1 191.19,590.24 203.08,596.35 214.97,600.78 226.86,604.56 238.74,607.1 250.63,608.96 262.52,610.39 274.4,611.59 286.29,612.55 298.18,613.06 310.06,614.03 321.95,614.64 333.84,615.13 345.72,615.54 357.61,615.93 369.5,616.31 381.38,616.74 393.27,617.32 405.16,618.23 417.04,619.6 428.93,620.51 440.82,621.29 452.7,621.98 464.59,622.63 476.48,623.28 488.36,623.99 500.25,624.79 512.14,625.8 524.03,626.8 535.91,627.56 547.8,628.33 559.69,628.76 571.57,629.09 583.46,629.38 595.35,629.67 607.23,629.99 619.12,630.32 631.01,630.65 642.89,630.97 654.78,631.3 654.78,637.3 642.89,637.07 631.01,636.85 619.12,636.62 607.23,636.39 595.35,636.17 583.46,635.98 571.57,635.79 559.69,635.56 547.8,635.23 535.91,634.56 524.03,633.89 512.14,632.98 500.25,632.05 488.36,631.32 476.48,630.69 464.59,630.13 452.7,629.57 440.82,629 428.93,628.35 417.04,627.6 405.16,626.55 393.27,626.15 381.38,626.12 369.5,626.13 357.61,625.93 345.72,625.47 333.84,624.87 321.95,624.14 310.06,623.29 298.18,622.14 286.29,621.55 274.4,620.66 262.52,619.66 250.63,618.54 238.74,617.1 226.86,615.79 214.97,614.01 203.08,611.5 191.19,607.43 179.31,601.1 167.42,592.32 155.53,581.62 143.65,569.72 131.76,556.91 119.87,543.7 107.99,528.83 96.1,512.53 84.21,495.8 72.33,473.7" fill="#8c564b" fill-opacity="0.18"/>
<polygon points="72.33,431.2 84.21,464.15 96.1,485 107.99,500.45 119.87,514.37 131.76,526.88 143.65,539.66 155.53,552.3 167.42,564.23 179.31,574.5 191.19,582.87 203.08,589.58 214.97,594.83 226.86,600.07 238.74,604.4 250.63,606.29 262.52,607.47 274.4,608.38 286.29,609.3 298.18,598.09 310.06,612.67 321.95,613.67 333.84,614.48 345.72,615.15 357.61,615.7 369.5,616.12 381.38,616.46 393.27,616.85 405.16,617.41 417.04,618.2 428.93,618.95 440.82,619.62 452.7,620.24 464.59,620.83 476.48,621.42 488.36,622.02 500.25,622.67 512.14,623.28 524.03,623.85 535.91,611.6 547.8,625.05 559.69,625.64 571.57,626.4 583.46,627.21 595.35,627.93 607.23,628.49 619.12,629.01 631.01,629.5 642.89,629.93 654.78,630.3 654.78,636.3 642.89,636.03 631.01,635.7 619.12,635.31 607.23,634.89 595.35,634.43 583.46,633.81 571.57,633.1 559.69,632.44 547.8,631.95 535.91,631.4 524.03,630.95 512.14,630.46 500.25,629.93 488.36,629.35 476.48,628.83 464.59,628.33 452.7,627.83 440.82,627.33 428.93,626.79 417.04,626.2 405.16,625.72 393.27,625.67 381.38,625.84 369.5,625.94 357.61,625.7 345.72,625.08 333.84,624.22 321.95,623.17 310.06,621.93 298.18,619.77 286.29,618.3 274.4,617.45 262.52,616.73 250.63,615.87 238.74,614.4 226.86,611.3 214.97,608.07 203.08,604.72 191.19,600.06 179.31,593.5 167.42,584.88 155.53,574.57 143.65,563.17 131.76,550.88 119.87,538.11 107.99,523.71 96.1,508 84.21,492.15 72.33,471.2" fill="#e377c2" fill-opacity="0.18"/>
<polygon points="72.33,434.7 84.21,469.35 96.1,491.5 107.99,507.88 119.87,522.53 131.76,535.5 143.65,548.75 155.53,561.87 167.42,573.93 179.31,583.3 191.19,590.76 203.08,596.42 214.97,600.56 226.86,604.18 238.74,606.6 250.63,608.37 262.52,609.75 274.4,610.93 286.29,611.9 298.18,612.46 310.06,613.57 321.95,614.33 333.84,614.97 345.72,615.53 357.61,616.05 369.5,616.55 381.38,617.09 393.27,617.75 405.16,618.71 417.04,620.1 428.93,620.96 440.82,621.6 452.7,622.09 464.59,622.52 476.48,622.94 488.36,623.43 500.25,624.07 512.14,624.94 524.03,625.8 535.91,626.5 547.8,627.21 559.69,627.49 571.57,627.56 583.46,627.47 595.35,624.64 607.23,628.06 619.12,629.16 631.01,630.1 642.89,630.91 654.78,631.6 654.78,637.6 642.89,637.07 631.01,636.59 619.12,636.14 607.23,635.74 595.35,635.37 583.46,635.06 571.57,634.79 559.69,634.51 547.8,634.16 535.91,633.5 524.03,632.9 512.14,632.11 500.25,631.33 488.36,630.76 476.48,630.35 464.59,630.01 452.7,629.69 440.82,629.31 428.93,628.8 417.04,628.1 405.16,627.03 393.27,626.58 381.38,626.47 369.5,626.37 357.61,626.05 345.72,625.46 333.84,624.71 321.95,623.83 310.06,622.83 298.18,621.54 286.29,621.06 274.4,620.56 262.52,620.11 250.63,619.57 238.74,618.6 226.86,617.82 214.97,616.83 203.08,615.2 191.19,612.2 179.31,607.05 167.42,599.72 155.53,589.63 143.65,577.94 131.76,565.15 119.87,551.64 107.99,536.13 96.1,519.1 84.21,500.89 72.33,474.7" fill="#7f7f7f" fill-opacity="0.2"/>
<polygon points="72.33,433.7 84.21,467.5 96.1,489 107.99,504.87 119.87,519.13 131.76,532 143.65,545.25 155.53,558.37 167.42,570.68 179.31,581.1 191.19,589.41 203.08,595.93 214.97,600.88 226.86,605.19 238.74,608.1 250.63,610.21 262.52,611.87 274.4,613.27 286.29,614.4 298.18,601.76 310.06,616.17 321.95,616.92 333.84,617.55 345.72,618.09 357.61,618.6 369.5,619.09 381.38,619.61 393.27,620.26 405.16,621.21 417.04,622.6 428.93,623.51 440.82,624.29 452.7,624.98 464.59,625.62 476.48,626.28 488.36,626.98 500.25,627.77 512.14,628.77 524.03,629.75 535.91,616.2 547.8,631.25 559.69,631.65 571.57,631.95 583.46,632.21 595.35,632.46 607.23,632.74 619.12,633.01 631.01,633.28 642.89,633.55 654.78,633.8 654.78,639.8 642.89,639.65 631.01,639.48 619.12,639.31 607.23,639.14 595.35,638.96 583.46,638.81 571.57,638.65 559.69,638.45 547.8,638.15 535.91,637.5 524.03,636.85 512.14,635.95 500.25,635.03 488.36,634.31 476.48,633.69 464.59,633.12 452.7,632.57 440.82,632 428.93,631.35 417.04,630.6 405.16,629.53 393.27,629.09 381.38,628.99 369.5,628.91 357.61,628.6 345.72,628.02 333.84,627.29 321.95,626.42 310.06,625.43 298.18,624.14 286.29,623.4 274.4,622.33 262.52,621.13 250.63,619.79 238.74,618.1 226.86,616.41 214.97,614.12 203.08,611.07 191.19,606.59 179.31,600.1 167.42,591.32 155.53,580.63 143.65,568.75 131.76,556 119.87,542.87 107.99,528.13 96.1,512 84.21,495.5 72.33,473.7" fill="#bcbd22" fill-opacity="0.18"/>
<line x1="60.44" y1="371.3" x2="60.44" y2="653.8" class="g"/>
<line x1="179.31" y1="371.3" x2="179.31" y2="653.8" class="g"/>
<line x1="298.18" y1="371.3" x2="298.18" y2="653.8" class="g"/>
<line x1="417.04" y1="371.3" x2="417.04" y2="653.8" class="g"/>
<line x1="535.91" y1="371.3" x2="535.91" y2="653.8" class="g"/>
<line x1="654.78" y1="371.3" x2="654.78" y2="653.8" class="g"/>
<line x1="43.2" y1="644.2" x2="683.9" y2="644.2" class="g"/>
<line x1="43.2" y1="609.64" x2="683.9" y2="609.64" class="g"/>
<line x1="43.2" y1="575.08" x2="683.9" y2="575.08" class="g"/>
<line x1="43.2" y1="540.52" x2="683.9" y2="540.52" class="g"/>
<line x1="43.2" y1="505.96" x2="683.9" y2="505.96" class="g"/>
<line x1="43.2" y1="471.4" x2="683.9" y2="471.4" class="g"/>
<line x1="43.2" y1="436.84" x2="683.9" y2="436.84" class="g"/>
<line x1="43.2" y1="402.28" x2="683.9" y2="402.28" class="g"/>
<polyline points="72.33,391.7 84.21,392.1 96.1,393.1 107.99,394.6 119.87,406.3 131.76,410.7 143.65,404.1 155.53,414.5 167.42,431 179.31,448.4 191.19,467 203.08,487 214.97,506 226.86,521 238.74,535.5 250.63,549 262.52,563 274.4,578 286.29,592 298.18,602.8 310.06,613 321.95,617 333.84,621 345.72,623.3 357.61,625 369.5,626.49 381.38,627.89 393.27,628.98 405.16,629.57 417.04,629.9 428.93,630.34 440.82,630.86 452.7,631.41 464.59,631.94 476.48,632.38 488.36,632.69 500.25,632.8 512.14,632.6 524.03,632.4 535.91,632.8 547.8,633.3 559.69,633.7 571.57,634.09 583.46,634.46 595.35,634.8 607.23,635.12 619.12,635.41 631.01,635.65 642.89,635.85 654.78,636" fill="none" stroke="#1f77b4" class="l"/>
<polyline points="72.33,460 84.21,486.5 96.1,504.21 107.99,518.91 119.87,532 131.76,543.05 143.65,553.81 155.53,564.74 167.42,576.48 179.31,587.7 191.19,595.64 203.08,601.6 214.97,605.98 226.86,609.6 238.74,612.17 250.63,614.31 262.52,616.01 274.4,617.51 286.29,618.8 298.18,619.7 310.06,621.11 321.95,622.18 333.84,623.13 345.72,623.95 357.61,624.66 369.5,625.21 381.38,625.65 393.27,626.13 405.16,626.9 417.04,628.2 428.93,629.1 440.82,629.88 452.7,630.58 464.59,631.24 476.48,631.9 488.36,632.62 500.25,633.43 512.14,634.44 524.03,635.43 535.91,636.18 547.8,636.92 559.69,637.3 571.57,637.59 583.46,637.83 595.35,638.05 607.23,638.3 619.12,638.54 631.01,638.77 642.89,638.99 654.78,639.2" fill="none" stroke="#ff7f0e" class="l"/>
<polyline points="72.33,452.7 84.21,480.56 96.1,499.62 107.99,515.67 119.87,530.23 131.76,543.28 143.65,556.34 155.53,568.89 167.42,580.45 179.31,590.1 191.19,597.56 203.08,603.12 214.97,607.19 226.86,610.55 238.74,612.92 250.63,614.87 262.52,616.43 274.4,617.76 286.29,618.89 298.18,607.6 310.06,620.77 321.95,621.57 333.84,622.2 345.72,622.71 357.61,623.1 369.5,623.35 381.38,623.52 393.27,623.78 405.16,624.4 417.04,625.6 428.93,626.43 440.82,627.14 452.7,627.78 464.59,628.37 476.48,628.98 488.36,629.64 500.25,630.4 512.14,631.36 524.03,632.3 535.91,622 547.8,633.71 559.69,634.08 571.57,634.36 583.46,634.61 595.35,634.87 607.23,635.15 619.12,635.45 631.01,635.74 642.89,636.02 654.78,636.3" fill="none" stroke="#2ca02c" class="l"/>
<polyline points="72.33,456.7 84.21,483.82 96.1,502.5 107.99,518.5 119.87,533 131.76,546.04 143.65,559.68 155.53,573.21 167.42,585.68 179.31,595.7 191.19,602.75 203.08,607.46 214.97,610.64 226.86,613.4 238.74,615.3 250.63,616.94 262.52,618.22 274.4,619.36 286.29,620.4 298.18,621.1 310.06,621.5 321.95,622.43 333.84,623.32 345.72,624.1 357.61,624.7 369.5,625.1 381.38,625.4 393.27,625.78 405.16,626.47 417.04,627.7 428.93,628.63 440.82,629.6 452.7,630.58 464.59,631.56 476.48,632.52 488.36,633.44 500.25,634.3 512.14,634.51 524.03,634.7 535.91,635.45 547.8,636.29 559.69,636.81 571.57,637.25 583.46,637.61 595.35,637.9 607.23,638.11 619.12,638.2 631.01,638.18 642.89,638.07 654.78,637.9" fill="none" stroke="#d62728" class="l"/>
<polyline points="72.33,451.2 84.21,478.99 96.1,497.97 107.99,513.93 119.87,528.39 131.76,541.33 143.65,554.26 155.53,566.68 167.42,578.09 179.31,587.6 191.19,594.81 203.08,600.03 214.97,603.82 226.86,607.12 238.74,609.5 250.63,611.54 262.52,613.2 274.4,614.65 286.29,615.86 298.18,604.6 310.06,617.78 321.95,618.58 333.84,619.22 345.72,619.74 357.61,620.14 369.5,620.4 381.38,620.57 393.27,620.83 405.16,621.43 417.04,622.6 428.93,623.4 440.82,624.07 452.7,624.67 464.59,625.24 476.48,625.82 488.36,626.45 500.25,627.18 512.14,628.11 524.03,629.03 535.91,617.71 547.8,630.39 559.69,630.72 571.57,630.96 583.46,631.15 595.35,631.34 607.23,631.56 619.12,631.77 631.01,631.99 642.89,632.2 654.78,632.4" fill="none" stroke="#9467bd" class="l"/>
<polyline points="72.33,453.7 84.21,481.8 96.1,501.03 107.99,517.2 119.87,531.83 131.76,544.91 143.65,557.96 155.53,570.49 167.42,582 179.31,591.6 191.19,598.83 203.08,603.92 214.97,607.4 226.86,610.18 238.74,612.1 250.63,613.75 262.52,615.02 274.4,616.12 286.29,617.05 298.18,617.6 310.06,618.66 321.95,619.39 333.84,620 345.72,620.51 357.61,620.93 369.5,621.22 381.38,621.43 393.27,621.74 405.16,622.39 417.04,623.6 428.93,624.43 440.82,625.14 452.7,625.78 464.59,626.38 476.48,626.99 488.36,627.66 500.25,628.42 512.14,629.39 524.03,630.35 535.91,631.06 547.8,631.78 559.69,632.16 571.57,632.44 583.46,632.68 595.35,632.92 607.23,633.19 619.12,633.47 631.01,633.75 642.89,634.02 654.78,634.3" fill="none" stroke="#8c564b" class="l"/>
<polyline points="72.33,451.2 84.21,478.15 96.1,496.5 107.99,512.08 119.87,526.24 131.76,538.88 143.65,551.41 155.53,563.43 167.42,574.55 179.31,584 191.19,591.46 203.08,597.15 214.97,601.45 226.86,605.69 238.74,609.4 250.63,611.08 262.52,612.1 274.4,612.92 286.29,613.8 298.18,602.63 310.06,617.3 321.95,618.42 333.84,619.35 345.72,620.12 357.61,620.7 369.5,621.03 381.38,621.15 393.27,621.26 405.16,621.56 417.04,622.2 428.93,622.87 440.82,623.47 452.7,624.03 464.59,624.58 476.48,625.12 488.36,625.69 500.25,626.3 512.14,626.87 524.03,627.4 535.91,615.1 547.8,628.5 559.69,629.04 571.57,629.75 583.46,630.51 595.35,631.18 607.23,631.69 619.12,632.16 631.01,632.6 642.89,632.98 654.78,633.3" fill="none" stroke="#e377c2" class="l"/>
<polyline points="72.33,454.7 84.21,483.35 96.1,503 107.99,519.51 119.87,534.4 131.76,547.5 143.65,560.5 155.53,573 167.42,584.25 179.31,592.8 191.19,599.36 203.08,603.99 214.97,607.18 226.86,609.79 238.74,611.6 250.63,613.16 262.52,614.38 274.4,615.46 286.29,616.4 298.18,617 310.06,618.2 321.95,619.08 333.84,619.84 345.72,620.49 357.61,621.05 369.5,621.46 381.38,621.78 393.27,622.17 405.16,622.87 417.04,624.1 428.93,624.88 440.82,625.45 452.7,625.89 464.59,626.27 476.48,626.64 488.36,627.1 500.25,627.7 512.14,628.53 524.03,629.35 535.91,630 547.8,630.71 559.69,631.11 571.57,631.44 583.46,631.76 595.35,632.12 607.23,632.54 619.12,632.99 631.01,633.49 642.89,634.02 654.78,634.6" fill="none" stroke="#7f7f7f" class="l"/>
<polyline points="72.33,453.7 84.21,481.5 96.1,500.5 107.99,516.5 119.87,531 131.76,544 143.65,557 155.53,569.5 167.42,581 179.31,590.6 191.19,598 203.08,603.5 214.97,607.5 226.86,610.8 238.74,613.1 250.63,615 262.52,616.5 274.4,617.8 286.29,618.9 298.18,606.3 310.06,620.8 321.95,621.67 333.84,622.42 345.72,623.06 357.61,623.6 369.5,624 381.38,624.3 393.27,624.68 405.16,625.37 417.04,626.6 428.93,627.43 440.82,628.14 452.7,628.78 464.59,629.37 476.48,629.98 488.36,630.64 500.25,631.4 512.14,632.36 524.03,633.3 535.91,619.7 547.8,634.7 559.69,635.05 571.57,635.3 583.46,635.51 595.35,635.71 607.23,635.94 619.12,636.16 631.01,636.38 642.89,636.6 654.78,636.8" fill="none" stroke="#bcbd22" class="l"/>
</g>
<rect x="43.2" y="371.3" width="640.7" height="282.5" class="sp"/>
<line x1="60.44" y1="653.8" x2="60.44" y2="658.35" class="t"/>
<text x="56.96" y="672" font-size="12.93" textLength="7.15" lengthAdjust="spacingAndGlyphs">0</text>
<line x1="179.31" y1="653.8" x2="179.31" y2="658.35" class="t"/>
<text x="167.8" y="672" font-size="12.93" textLength="22.7" lengthAdjust="spacingAndGlyphs">100</text>
<line x1="298.18" y1="653.8" x2="298.18" y2="658.35" class="t"/>
<text x="286.8" y="672" font-size="12.93" textLength="22.8" lengthAdjust="spacingAndGlyphs">200</text>
<line x1="417.04" y1="653.8" x2="417.04" y2="658.35" class="t"/>
<text x="405.86" y="672" font-size="12.93" textLength="22.59" lengthAdjust="spacingAndGlyphs">300</text>
<line x1="535.91" y1="653.8" x2="535.91" y2="658.35" class="t"/>
<text x="524.76" y="672" font-size="12.93" textLength="22.72" lengthAdjust="spacingAndGlyphs">400</text>
<line x1="654.78" y1="653.8" x2="654.78" y2="658.35" class="t"/>
<text x="643.57" y="672" font-size="12.93" textLength="22.61" lengthAdjust="spacingAndGlyphs">500</text>
<line x1="38.65" y1="644.2" x2="43.2" y2="644.2" class="t"/>
<text x="-0.05" y="649.2" font-size="12.93" textLength="34.39" lengthAdjust="spacingAndGlyphs">0.000</text>
<line x1="38.65" y1="609.64" x2="43.2" y2="609.64" class="t"/>
<text x="0.21" y="614.64" font-size="12.93" textLength="34.16" lengthAdjust="spacingAndGlyphs">0.025</text>
<line x1="38.65" y1="575.08" x2="43.2" y2="575.08" class="t"/>
<text x="-0.05" y="580.08" font-size="12.93" textLength="34.39" lengthAdjust="spacingAndGlyphs">0.050</text>
<line x1="38.65" y1="540.52" x2="43.2" y2="540.52" class="t"/>
<text x="0.21" y="545.52" font-size="12.93" textLength="34.16" lengthAdjust="spacingAndGlyphs">0.075</text>
<line x1="38.65" y1="505.96" x2="43.2" y2="505.96" class="t"/>
<text x="-0.05" y="510.96" font-size="12.93" textLength="34.39" lengthAdjust="spacingAndGlyphs">0.100</text>
<line x1="38.65" y1="471.4" x2="43.2" y2="471.4" class="t"/>
<text x="0.21" y="476.4" font-size="12.93" textLength="34.16" lengthAdjust="spacingAndGlyphs">0.125</text>
<line x1="38.65" y1="436.84" x2="43.2" y2="436.84" class="t"/>
<text x="-0.05" y="441.84" font-size="12.93" textLength="34.39" lengthAdjust="spacingAndGlyphs">0.150</text>
<line x1="38.65" y1="402.28" x2="43.2" y2="402.28" class="t"/>
<text x="0.21" y="407.28" font-size="12.93" textLength="34.16" lengthAdjust="spacingAndGlyphs">0.175</text>
<text x="345.07" y="689.1" font-size="12.93" textLength="37.04" lengthAdjust="spacingAndGlyphs">Epoch</text>
<text x="309.91" y="363.9" font-size="15.21" textLength="108.1" lengthAdjust="spacingAndGlyphs">Validation Loss</text>
<rect x="574.8" y="377.7" width="103" height="167" rx="2.6" class="lg"/>
<line x1="579.2" y1="387.6" x2="605.2" y2="387.6" stroke="#1f77b4" class="l"/>
<text x="614.56" y="391.9" font-size="12.93" textLength="27.31" lengthAdjust="spacingAndGlyphs">DNN</text>
<line x1="579.2" y1="405.72" x2="605.2" y2="405.72" stroke="#ff7f0e" class="l"/>
<text x="614.54" y="410.02" font-size="12.93" textLength="53.18" lengthAdjust="spacingAndGlyphs">adaptive</text>
<line x1="579.2" y1="423.85" x2="605.2" y2="423.85" stroke="#2ca02c" class="l"/>
<text x="614.5" y="428.15" font-size="12.93" textLength="43.94" lengthAdjust="spacingAndGlyphs">at+sim</text>
<line x1="579.2" y1="441.97" x2="605.2" y2="441.97" stroke="#d62728" class="l"/>
<text x="614.63" y="446.27" font-size="12.93" textLength="50.83" lengthAdjust="spacingAndGlyphs">baseline</text>
<line x1="579.2" y1="460.1" x2="605.2" y2="460.1" stroke="#9467bd" class="l"/>
<text x="614.47" y="464.4" font-size="12.93" textLength="18.56" lengthAdjust="spacingAndGlyphs">full</text>
<line x1="579.2" y1="478.22" x2="605.2" y2="478.22" stroke="#8c564b" class="l"/>
<text x="614.65" y="482.52" font-size="12.93" textLength="36.14" lengthAdjust="spacingAndGlyphs">sd+at</text>
<line x1="579.2" y1="496.35" x2="605.2" y2="496.35" stroke="#e377c2" class="l"/>
<text x="614.66" y="500.65" font-size="12.93" textLength="45.59" lengthAdjust="spacingAndGlyphs">sd+sim</text>
<line x1="579.2" y1="514.47" x2="605.2" y2="514.47" stroke="#7f7f7f" class="l"/>
<text x="614.67" y="518.77" font-size="12.93" textLength="57.92" lengthAdjust="spacingAndGlyphs">self-distill</text>
<line x1="579.2" y1="532.6" x2="605.2" y2="532.6" stroke="#bcbd22" class="l"/>
<text x="614.66" y="536.9" font-size="12.93" textLength="55.7" lengthAdjust="spacingAndGlyphs">similarity</text>
<clipPath id="c2"><rect x="43.2" y="723.6" width="640.7" height="282.8"/></clipPath>
<g clip-path="url(#c2)">
<polygon points="119.87,991.5 131.76,990.5 143.65,989.3 155.53,983.9 167.42,973.2 179.31,957.8 191.19,941.2 203.08,917 214.97,892 226.86,867.5 238.74,848 250.63,829.13 262.52,808 274.4,784.2 286.29,767 298.18,753.5 310.06,748.5 321.95,745.5 333.84,742.8 345.72,741.62 357.61,741 369.5,740.65 381.38,740.41 393.27,740.24 405.16,740.09 417.04,739.9 428.93,739.7 440.82,739.53 452.7,739.39 464.59,739.25 476.48,739.1 488.36,738.94 500.25,738.76 512.14,738.61 524.03,738.51 535.91,738.5 547.8,738.55 559.69,738.6 571.57,738.65 583.46,738.7 595.35,738.75 607.23,738.77 619.12,738.75 631.01,738.68 642.89,738.6 654.78,738.5 654.78,740.5 642.89,740.7 631.01,740.88 619.12,741.05 607.23,741.17 595.35,741.25 583.46,741.3 571.57,741.35 559.69,741.4 547.8,741.45 535.91,741.5 524.03,741.6 512.14,741.78 500.25,742.01 488.36,742.26 476.48,742.5 464.59,742.72 452.7,742.96 440.82,743.22 428.93,743.53 417.04,743.9 405.16,744.39 393.27,745.06 381.38,745.89 369.5,746.87 357.61,748 345.72,749.57 333.84,751.8 321.95,755.5 310.06,762.5 298.18,773.5 286.29,791 274.4,809.8 262.52,834 250.63,855.87 238.74,876 226.86,898.5 214.97,922 203.08,945 191.19,963.2 179.31,975.2 167.42,983.2 155.53,989.9 143.65,991.3 131.76,991.5 119.87,992.5" fill="#cdd7ea"/>
<polygon points="72.33,939.9 84.21,919.08 96.1,902.15 107.99,885.63 119.87,871.06 131.76,857.69 143.65,844.62 155.53,829.92 167.42,815.48 179.31,801.2 191.19,791.69 203.08,784.51 214.97,778.1 226.86,773.75 238.74,769.94 250.63,768.01 262.52,766.5 274.4,765.11 286.29,763.74 298.18,762.25 310.06,760.98 321.95,759.79 333.84,758.35 345.72,756.65 357.61,754.81 369.5,752.9 381.38,751 393.27,749.17 405.16,747.48 417.04,746 428.93,744.81 440.82,743.96 452.7,743.28 464.59,742.69 476.48,742.1 488.36,741.47 500.25,740.8 512.14,740.13 524.03,739.47 535.91,738.84 547.8,738.17 559.69,737.49 571.57,736.88 583.46,736.4 595.35,736.12 607.23,735.98 619.12,735.89 631.01,735.84 642.89,735.85 654.78,735.9 654.78,739.9 642.89,740.34 631.01,740.79 619.12,741.24 607.23,741.69 595.35,742.12 583.46,742.62 571.57,743.26 559.69,744.02 547.8,744.85 535.91,745.72 524.03,746.62 512.14,747.67 500.25,748.84 488.36,750.07 476.48,751.33 464.59,752.55 452.7,753.77 440.82,755.04 428.93,756.4 417.04,758 405.16,759.8 393.27,761.75 381.38,763.8 369.5,765.93 357.61,768.07 345.72,770.18 333.84,772.23 321.95,774.24 310.06,776.31 298.18,778.2 286.29,779.73 274.4,781.05 262.52,782.35 250.63,783.72 238.74,785.46 226.86,789.05 214.97,793.1 203.08,798.51 191.19,808.19 179.31,820.2 167.42,833.57 155.53,846.33 143.65,859.69 131.76,871.34 119.87,883.55 107.99,897.63 96.1,914.83 84.21,933.76 72.33,959.7" fill="#ff7f0e" fill-opacity="0.18"/>
<polygon points="72.33,943.3 84.21,920.06 96.1,901.27 107.99,883.4 119.87,867.86 131.76,853.67 143.65,839.96 155.53,824.8 167.42,809.96 179.31,795.5 191.19,786.76 203.08,780.02 214.97,773.55 226.86,770.43 238.74,767.84 250.63,765.83 262.52,764.07 274.4,762.39 286.29,760.8 298.18,759.25 310.06,758 321.95,756.87 333.84,755.49 345.72,753.87 357.61,752.13 369.5,750.34 381.38,748.55 393.27,746.84 405.16,745.27 417.04,743.9 428.93,742.83 440.82,742.13 452.7,741.61 464.59,741.19 476.48,740.79 488.36,740.33 500.25,739.85 512.14,739.34 524.03,738.84 535.91,738.34 547.8,737.79 559.69,737.24 571.57,736.77 583.46,736.43 595.35,736.3 607.23,736.32 619.12,736.38 631.01,736.5 642.89,736.67 654.78,736.9 654.78,740.9 642.89,741.16 631.01,741.45 619.12,741.74 607.23,742.03 595.35,742.3 583.46,742.65 571.57,743.15 559.69,743.77 547.8,744.48 535.91,745.22 524.03,745.99 512.14,746.88 500.25,747.88 488.36,748.94 476.48,750.01 464.59,751.06 452.7,752.1 440.82,753.2 428.93,754.42 417.04,755.9 405.16,757.58 393.27,759.42 381.38,761.36 369.5,763.36 357.61,765.4 345.72,767.41 333.84,769.37 321.95,771.31 310.06,773.33 298.18,775.21 286.29,776.79 274.4,778.33 262.52,779.92 250.63,781.54 238.74,783.37 226.86,785.72 214.97,788.55 203.08,794.02 191.19,803.26 179.31,814.5 167.42,828.04 155.53,841.2 143.65,855.04 131.76,867.33 119.87,880.34 107.99,895.4 96.1,913.73 84.21,933.94 72.33,961.3" fill="#2ca02c" fill-opacity="0.18"/>
<polygon points="72.33,944.3 84.21,921.02 96.1,901.64 107.99,882.91 119.87,866.21 131.76,850.51 143.65,835.37 155.53,819.8 167.42,805.13 179.31,791 191.19,783.55 203.08,778.1 214.97,771.8 226.86,768.48 238.74,766.54 250.63,764.4 262.52,762.4 274.4,760.44 286.29,758.65 298.18,757.08 310.06,756.26 321.95,755.65 333.84,754.46 345.72,752.85 357.61,751.09 369.5,749.25 381.38,747.39 393.27,745.58 405.16,743.89 417.04,742.4 428.93,741.22 440.82,740.44 452.7,739.89 464.59,739.51 476.48,739.23 488.36,738.99 500.25,738.74 512.14,738.45 524.03,738.13 535.91,737.76 547.8,737.37 559.69,737 571.57,736.69 583.46,736.48 595.35,736.41 607.23,736.44 619.12,736.49 631.01,736.57 642.89,736.71 654.78,736.9 654.78,740.9 642.89,740.99 631.01,741.08 619.12,741.17 607.23,741.25 595.35,741.3 583.46,741.41 571.57,741.64 559.69,741.98 547.8,742.42 535.91,742.92 524.03,743.5 512.14,744.23 500.25,745.11 488.36,746.11 476.48,747.21 464.59,748.43 452.7,749.76 440.82,751.19 428.93,752.71 417.04,754.4 405.16,756.21 393.27,758.16 381.38,760.19 369.5,762.27 357.61,764.35 345.72,766.39 333.84,768.34 321.95,770.1 310.06,771.59 298.18,773.04 286.29,774.64 274.4,776.38 262.52,778.25 250.63,780.11 238.74,782.06 226.86,783.77 214.97,786.8 203.08,792.1 191.19,800.05 179.31,810 167.42,823.21 155.53,836.21 143.65,850.17 131.76,862.96 119.87,876.64 107.99,892.51 96.1,911.92 84.21,933.43 72.33,962.3" fill="#d62728" fill-opacity="0.18"/>
<polygon points="72.33,949.3 84.21,926.06 96.1,907.27 107.99,889.4 119.87,873.86 131.76,859.76 143.65,846.25 155.53,831.34 167.42,816.77 179.31,802.5 191.19,793.88 203.08,787.24 214.97,780.84 226.86,777.78 238.74,775.24 250.63,773.28 262.52,771.59 274.4,769.97 286.29,768.48 298.18,767.05 310.06,765.98 321.95,765.08 333.84,763.99 345.72,762.68 357.61,761.26 369.5,759.76 381.38,758.24 393.27,756.74 405.16,755.31 417.04,754 428.93,752.9 440.82,752.12 452.7,751.47 464.59,750.89 476.48,750.29 488.36,749.64 500.25,748.94 512.14,748.22 524.03,747.52 535.91,746.84 547.8,746.08 559.69,745.23 571.57,744.39 583.46,743.61 595.35,742.97 607.23,742.42 619.12,741.89 631.01,741.36 642.89,740.87 654.78,740.4 654.78,744.4 642.89,745.36 631.01,746.31 619.12,747.24 607.23,748.13 595.35,748.97 583.46,749.82 571.57,750.77 559.69,751.77 547.8,752.76 535.91,753.72 524.03,754.67 512.14,755.76 500.25,756.97 488.36,758.24 476.48,759.52 464.59,760.75 452.7,761.96 440.82,763.19 428.93,764.49 417.04,766 405.16,767.63 393.27,769.32 381.38,771.05 369.5,772.79 357.61,774.52 345.72,776.22 333.84,777.87 321.95,779.53 310.06,781.31 298.18,783.01 286.29,784.47 274.4,785.92 262.52,787.44 250.63,788.99 238.74,790.77 226.86,793.07 214.97,795.84 203.08,801.24 191.19,810.38 179.31,821.5 167.42,834.85 155.53,847.75 143.65,861.32 131.76,873.41 119.87,886.34 107.99,901.4 96.1,919.56 84.21,939.33 72.33,965.95" fill="#9467bd" fill-opacity="0.2"/>
<polygon points="72.33,946.3 84.21,922.47 96.1,903.21 107.99,884.99 119.87,869.2 131.76,854.85 143.65,841.04 155.53,825.82 167.42,810.96 179.31,796.5 191.19,788.42 203.08,783.01 214.97,777.5 226.86,774.78 238.74,772.5 250.63,770.74 262.52,769.19 274.4,767.71 286.29,766.33 298.18,765.05 310.06,764.14 321.95,763.39 333.84,762.44 345.72,761.26 357.61,759.96 369.5,758.56 381.38,757.13 393.27,755.69 405.16,754.3 417.04,753 428.93,751.9 440.82,751.12 452.7,750.47 464.59,749.89 476.48,749.29 488.36,748.64 500.25,747.94 512.14,747.22 524.03,746.52 535.91,745.84 547.8,745.08 559.69,744.23 571.57,743.39 583.46,742.61 595.35,741.97 607.23,741.42 619.12,740.89 631.01,740.36 642.89,739.87 654.78,739.4 654.78,743.4 642.89,744.36 631.01,745.31 619.12,746.24 607.23,747.13 595.35,747.97 583.46,748.82 571.57,749.77 559.69,750.77 547.8,751.76 535.91,752.72 524.03,753.67 512.14,754.76 500.25,755.97 488.36,757.24 476.48,758.52 464.59,759.75 452.7,760.96 440.82,762.19 428.93,763.49 417.04,765 405.16,766.62 393.27,768.27 381.38,769.93 369.5,771.59 357.61,773.22 345.72,774.8 333.84,776.32 321.95,777.83 310.06,779.47 298.18,781.01 286.29,782.32 274.4,783.65 262.52,785.04 250.63,786.45 238.74,788.03 226.86,790.07 214.97,792.5 203.08,797.01 191.19,804.92 179.31,815.5 167.42,829.04 155.53,842.23 143.65,856.11 131.76,868.5 119.87,881.68 107.99,896.99 96.1,915.67 84.21,936.34 72.33,964.3" fill="#8c564b" fill-opacity="0.18"/>
<polygon points="72.33,949.3 84.21,929.71 96.1,910.64 107.99,892.4 119.87,876.27 131.76,861.67 143.65,848.65 155.53,834.27 167.42,819.99 179.31,805.8 191.19,796.07 203.08,788.49 214.97,781.8 226.86,778.65 238.74,776.04 250.63,774.16 262.52,772.76 274.4,771.49 286.29,770.22 298.18,768.69 310.06,766.64 321.95,764.51 333.84,762.88 345.72,761.69 357.61,760.72 369.5,759.89 381.38,759.12 393.27,758.33 405.16,757.41 417.04,756.3 428.93,755.2 440.82,754.41 452.7,753.76 464.59,753.18 476.48,752.59 488.36,751.82 500.25,750.84 512.14,749.75 524.03,748.64 535.91,747.54 547.8,746.26 559.69,744.88 571.57,743.58 583.46,742.5 595.35,741.8 607.23,741.39 619.12,741.06 631.01,740.84 642.89,740.75 654.78,740.8 654.78,744.8 642.89,745.24 631.01,745.79 619.12,746.42 607.23,747.1 595.35,747.8 583.46,748.71 571.57,749.96 559.69,751.41 547.8,752.94 535.91,754.42 524.03,755.78 512.14,757.29 500.25,758.88 488.36,760.43 476.48,761.81 464.59,763.04 452.7,764.25 440.82,765.48 428.93,766.79 417.04,768.3 405.16,769.73 393.27,770.91 381.38,771.93 369.5,772.92 357.61,773.98 345.72,775.23 333.84,776.76 321.95,779.35 310.06,783.8 298.18,787.75 286.29,789.21 274.4,789.67 262.52,789.84 250.63,790.24 238.74,791.56 226.86,794 214.97,797 203.08,802.9 191.19,813.39 179.31,826.24 167.42,839.99 155.53,852.96 143.65,866.73 131.76,879.72 119.87,894.3 107.99,910.4 96.1,928.49 84.21,947.13 72.33,967.3" fill="#e377c2" fill-opacity="0.18"/>
<polygon points="72.33,945.3 84.21,921.05 96.1,901.36 107.99,882.73 119.87,865.78 131.76,849.92 143.65,835.31 155.53,819.28 167.42,802.86 179.31,786.95 191.19,778.32 203.08,772.79 214.97,770.65 226.86,767.88 238.74,766.16 250.63,765.69 262.52,765.92 274.4,766.19 286.29,766.06 298.18,765 310.06,763.15 321.95,761.25 333.84,759.74 345.72,758.58 357.61,757.62 369.5,756.78 381.38,756 393.27,755.18 405.16,754.26 417.04,753.17 428.93,752.1 440.82,751.34 452.7,750.71 464.59,750.16 476.48,749.6 488.36,748.96 500.25,748.26 512.14,747.52 524.03,746.75 535.91,745.93 547.8,744.8 559.69,743.49 571.57,742.19 583.46,741.1 595.35,740.39 607.23,739.99 619.12,739.68 631.01,739.47 642.89,739.37 654.78,739.4 654.78,743.4 642.89,743.99 631.01,744.71 619.12,745.52 607.23,746.39 595.35,747.3 583.46,748.47 571.57,750.02 559.69,751.75 547.8,753.44 535.91,754.9 524.03,756.08 512.14,757.35 500.25,758.73 488.36,760.16 476.48,761.57 464.59,762.92 452.7,764.23 440.82,765.54 428.93,766.89 417.04,768.4 405.16,769.53 393.27,770.01 381.38,770.21 369.5,770.51 357.61,771.31 345.72,772.6 333.84,774.16 321.95,776.31 310.06,779.19 298.18,781.75 286.29,783.25 274.4,784.26 262.52,785.12 250.63,786.04 238.74,787.46 226.86,789.72 214.97,792.4 203.08,792.87 191.19,801.35 179.31,812.6 167.42,826.1 155.53,839.21 143.65,853.09 131.76,865.62 119.87,879.07 107.99,894.73 96.1,913.82 84.21,934.92 72.33,963.3" fill="#7f7f7f" fill-opacity="0.2"/>
<polygon points="72.33,944.3 84.21,921.06 96.1,902.27 107.99,884.4 119.87,868.86 131.76,854.67 143.65,840.96 155.53,825.8 167.42,810.96 179.31,796.5 191.19,787.75 203.08,781 214.97,774.5 226.86,771.35 238.74,768.74 250.63,766.69 262.52,764.91 274.4,763.2 286.29,761.6 298.18,760.05 310.06,758.82 321.95,757.7 333.84,756.36 345.72,754.79 357.61,753.09 369.5,751.34 381.38,749.59 393.27,747.91 405.16,746.36 417.04,745 428.93,743.92 440.82,743.17 452.7,742.58 464.59,742.08 476.48,741.59 488.36,741.04 500.25,740.47 512.14,739.9 524.03,739.36 535.91,738.84 547.8,738.29 559.69,737.74 571.57,737.27 583.46,736.93 595.35,736.8 607.23,736.82 619.12,736.88 631.01,737 642.89,737.17 654.78,737.4 654.78,741.4 642.89,741.66 631.01,741.95 619.12,742.24 607.23,742.53 595.35,742.8 583.46,743.15 571.57,743.65 559.69,744.27 547.8,744.98 535.91,745.72 524.03,746.5 512.14,747.44 500.25,748.51 488.36,749.65 476.48,750.81 464.59,751.94 452.7,753.07 440.82,754.24 428.93,755.5 417.04,757 405.16,758.68 393.27,760.49 381.38,762.4 369.5,764.36 357.61,766.35 345.72,768.32 333.84,770.24 321.95,772.15 310.06,774.15 298.18,776.01 286.29,777.59 274.4,779.15 262.52,780.76 250.63,782.41 238.74,784.26 226.86,786.65 214.97,789.5 203.08,795 191.19,804.25 179.31,815.5 167.42,829.04 155.53,842.2 143.65,856.04 131.76,868.33 119.87,881.34 107.99,896.4 96.1,914.73 84.21,934.94 72.33,962.3" fill="#bcbd22" fill-opacity="0.18"/>
<line x1="60.44" y1="723.6" x2="60.44" y2="1006.4" class="g"/>
<line x1="179.31" y1="723.6" x2="179.31" y2="1006.4" class="g"/>
<line x1="298.18" y1="723.6" x2="298.18" y2="1006.4" class="g"/>
<line x1="417.04" y1="723.6" x2="417.04" y2="1006.4" class="g"/>
<line x1="535.91" y1="723.6" x2="535.91" y2="1006.4" class="g"/>
<line x1="654.78" y1="723.6" x2="654.78" y2="1006.4" class="g"/>
<line x1="43.2" y1="993.6" x2="683.9" y2="993.6" class="g"/>
<line x1="43.2" y1="942.08" x2="683.9" y2="942.08" class="g"/>
<line x1="43.2" y1="890.56" x2="683.9" y2="890.56" class="g"/>
<line x1="43.2" y1="839.04" x2="683.9" y2="839.04" class="g"/>
<line x1="43.2" y1="787.52" x2="683.9" y2="787.52" class="g"/>
<line x1="43.2" y1="736" x2="683.9" y2="736" class="g"/>
<polyline points="72.33,993.4 84.21,993.2 96.1,993 107.99,992.6 119.87,992 131.76,991 143.65,990.3 155.53,986.9 167.42,978.2 179.31,966.5 191.19,952.2 203.08,931 214.97,907 226.86,883 238.74,862 250.63,842.5 262.52,821 274.4,797 286.29,779 298.18,763.5 310.06,755.5 321.95,750.5 333.84,747.3 345.72,745.59 357.61,744.5 369.5,743.76 381.38,743.15 393.27,742.65 405.16,742.24 417.04,741.9 428.93,741.62 440.82,741.38 452.7,741.17 464.59,740.98 476.48,740.8 488.36,740.6 500.25,740.39 512.14,740.19 524.03,740.05 535.91,740 547.8,740 559.69,740 571.57,740 583.46,740 595.35,740 607.23,739.97 619.12,739.9 631.01,739.78 642.89,739.65 654.78,739.5" fill="none" stroke="#1f77b4" class="l"/>
<polyline points="72.33,950.7 84.21,926.82 96.1,908.6 107.99,891.63 119.87,877.31 131.76,864.52 143.65,852.16 155.53,838.13 167.42,824.52 179.31,810.7 191.19,799.94 203.08,791.51 214.97,785.6 226.86,781.4 238.74,777.7 250.63,775.87 262.52,774.43 274.4,773.08 286.29,771.74 298.18,770.23 310.06,768.64 321.95,767.02 333.84,765.29 345.72,763.41 357.61,761.44 369.5,759.41 381.38,757.4 393.27,755.46 405.16,753.64 417.04,752 428.93,750.61 440.82,749.5 452.7,748.53 464.59,747.62 476.48,746.72 488.36,745.77 500.25,744.82 512.14,743.9 524.03,743.05 535.91,742.28 547.8,741.51 559.69,740.76 571.57,740.07 583.46,739.51 595.35,739.12 607.23,738.84 619.12,738.57 631.01,738.32 642.89,738.09 654.78,737.9" fill="none" stroke="#ff7f0e" class="l"/>
<polyline points="72.33,952.3 84.21,927 96.1,907.5 107.99,889.4 119.87,874.1 131.76,860.5 143.65,847.5 155.53,833 167.42,819 179.31,805 191.19,795.01 203.08,787.02 214.97,781.05 226.86,778.07 238.74,775.6 250.63,773.68 262.52,772 274.4,770.36 286.29,768.79 298.18,767.23 310.06,765.67 321.95,764.09 333.84,762.43 345.72,760.64 357.61,758.77 369.5,756.85 381.38,754.96 393.27,753.13 405.16,751.43 417.04,749.9 428.93,748.63 440.82,747.67 452.7,746.86 464.59,746.12 476.48,745.4 488.36,744.64 500.25,743.86 512.14,743.11 524.03,742.41 535.91,741.78 547.8,741.13 559.69,740.51 571.57,739.96 583.46,739.54 595.35,739.3 607.23,739.17 619.12,739.06 631.01,738.98 642.89,738.92 654.78,738.9" fill="none" stroke="#2ca02c" class="l"/>
<polyline points="72.33,953.3 84.21,926.5 96.1,905.69 107.99,886.51 119.87,870.4 131.76,856.13 143.65,842.63 155.53,828.01 167.42,814.17 179.31,800.5 191.19,791.8 203.08,785.1 214.97,779.3 226.86,776.13 238.74,774.3 250.63,772.26 262.52,770.33 274.4,768.41 286.29,766.64 298.18,765.06 310.06,763.92 321.95,762.87 333.84,761.4 345.72,759.62 357.61,757.72 369.5,755.76 381.38,753.79 393.27,751.87 405.16,750.05 417.04,748.4 428.93,746.92 440.82,745.66 452.7,744.51 464.59,743.5 476.48,742.6 488.36,741.8 500.25,741.09 512.14,740.46 524.03,739.93 535.91,739.48 547.8,739.07 559.69,738.72 571.57,738.45 583.46,738.3 595.35,738.3 607.23,738.39 619.12,738.49 631.01,738.61 642.89,738.74 654.78,738.9" fill="none" stroke="#d62728" class="l"/>
<polyline points="72.33,958.3 84.21,933 96.1,913.5 107.99,895.4 119.87,880.1 131.76,866.58 143.65,853.79 155.53,839.55 167.42,825.81 179.31,812 191.19,802.13 203.08,794.24 214.97,788.34 226.86,785.42 238.74,783.01 250.63,781.14 262.52,779.51 274.4,777.94 286.29,776.47 298.18,775.03 310.06,773.65 321.95,772.3 333.84,770.93 345.72,769.45 357.61,767.89 369.5,766.28 381.38,764.65 393.27,763.03 405.16,761.47 417.04,760 428.93,758.7 440.82,757.65 452.7,756.72 464.59,755.82 476.48,754.91 488.36,753.94 500.25,752.95 512.14,751.99 524.03,751.09 535.91,750.28 547.8,749.42 559.69,748.5 571.57,747.58 583.46,746.71 595.35,745.97 607.23,745.28 619.12,744.56 631.01,743.84 642.89,743.11 654.78,742.4" fill="none" stroke="#9467bd" class="l"/>
<polyline points="72.33,955.3 84.21,929.4 96.1,909.44 107.99,890.99 119.87,875.44 131.76,861.68 143.65,848.57 155.53,834.02 167.42,820 179.31,806 191.19,796.67 203.08,790.01 214.97,785 226.86,782.43 238.74,780.27 250.63,778.59 262.52,777.12 274.4,775.68 286.29,774.33 298.18,773.03 310.06,771.8 321.95,770.61 333.84,769.38 345.72,768.03 357.61,766.59 369.5,765.08 381.38,763.53 393.27,761.98 405.16,760.46 417.04,759 428.93,757.7 440.82,756.65 452.7,755.72 464.59,754.82 476.48,753.91 488.36,752.94 500.25,751.95 512.14,750.99 524.03,750.09 535.91,749.28 547.8,748.42 559.69,747.5 571.57,746.58 583.46,745.71 595.35,744.97 607.23,744.28 619.12,743.56 631.01,742.84 642.89,742.11 654.78,741.4" fill="none" stroke="#8c564b" class="l"/>
<polyline points="72.33,958.3 84.21,936.64 96.1,916.87 107.99,898.4 119.87,882.51 131.76,868.5 143.65,856.18 155.53,842.47 167.42,829.04 179.31,815.3 191.19,804.32 203.08,795.49 214.97,789.3 226.86,786.3 238.74,783.8 250.63,782.01 262.52,780.68 274.4,779.46 286.29,778.21 298.18,776.67 310.06,774.3 321.95,771.73 333.84,769.82 345.72,768.46 357.61,767.35 369.5,766.41 381.38,765.53 393.27,764.62 405.16,763.57 417.04,762.3 428.93,761 440.82,759.95 452.7,759.01 464.59,758.11 476.48,757.2 488.36,756.13 500.25,754.86 512.14,753.52 524.03,752.21 535.91,750.98 547.8,749.6 559.69,748.15 571.57,746.77 583.46,745.61 595.35,744.8 607.23,744.24 619.12,743.74 631.01,743.32 642.89,743 654.78,742.8" fill="none" stroke="#e377c2" class="l"/>
<polyline points="72.33,954.3 84.21,927.98 96.1,907.59 107.99,888.73 119.87,872.83 131.76,858.8 143.65,845.55 155.53,831 167.42,817.06 179.31,803.1 191.19,793.1 203.08,785.87 214.97,784.9 226.86,782.07 238.74,779.7 250.63,778.19 262.52,777.19 274.4,776.29 286.29,775.26 298.18,773.78 310.06,771.52 321.95,769.09 333.84,767.22 345.72,765.83 357.61,764.68 369.5,763.68 381.38,762.74 393.27,761.77 405.16,760.69 417.04,759.4 428.93,758.09 440.82,757.04 452.7,756.1 464.59,755.2 476.48,754.3 488.36,753.34 500.25,752.34 512.14,751.33 524.03,750.36 535.91,749.4 547.8,748.17 559.69,746.77 571.57,745.4 583.46,744.21 595.35,743.4 607.23,742.85 619.12,742.36 631.01,741.94 642.89,741.61 654.78,741.4" fill="none" stroke="#7f7f7f" class="l"/>
<polyline points="72.33,953.3 84.21,928 96.1,908.5 107.99,890.4 119.87,875.1 131.76,861.5 143.65,848.5 155.53,834 167.42,820 179.31,806 191.19,796 203.08,788 214.97,782 226.86,779 238.74,776.5 250.63,774.55 262.52,772.84 274.4,771.17 286.29,769.6 298.18,768.03 310.06,766.48 321.95,764.93 333.84,763.3 345.72,761.55 357.61,759.72 369.5,757.85 381.38,755.99 393.27,754.2 405.16,752.52 417.04,751 428.93,749.71 440.82,748.7 452.7,747.83 464.59,747.01 476.48,746.2 488.36,745.35 500.25,744.49 512.14,743.67 524.03,742.93 535.91,742.28 547.8,741.63 559.69,741.01 571.57,740.46 583.46,740.04 595.35,739.8 607.23,739.67 619.12,739.56 631.01,739.48 642.89,739.42 654.78,739.4" fill="none" stroke="#bcbd22" class="l"/>
</g>
<rect x="43.2" y="723.6" width="640.7" height="282.8" class="sp"/>
<line x1="60.44" y1="1006.4" x2="60.44" y2="1010.95" class="t"/>
<text x="56.96" y="1024.6" font-size="12.93" textLength="7.15" lengthAdjust="spacingAndGlyphs">0</text>
<line x1="179.31" y1="1006.4" x2="179.31" y2="1010.95" class="t"/>
<text x="167.8" y="1024.6" font-size="12.93" textLength="22.7" lengthAdjust="spacingAndGlyphs">100</text>
<line x1="298.18" y1="1006.4" x2="298.18" y2="1010.95" class="t"/>
<text x="286.8" y="1024.6" font-size="12.93" textLength="22.8" lengthAdjust="spacingAndGlyphs">200</text>
<line x1="417.04" y1="1006.4" x2="417.04" y2="1010.95" class="t"/>
<text x="405.86" y="1024.6" font-size="12.93" textLength="22.59" lengthAdjust="spacingAndGlyphs">300</text>
<line x1="535.91" y1="1006.4" x2="535.91" y2="1010.95" class="t"/>
<text x="524.76" y="1024.6" font-size="12.93" textLength="22.72" lengthAdjust="spacingAndGlyphs">400</text>
<line x1="654.78" y1="1006.4" x2="654.78" y2="1010.95" class="t"/>
<text x="643.57" y="1024.6" font-size="12.93" textLength="22.61" lengthAdjust="spacingAndGlyphs">500</text>
<line x1="38.65" y1="993.6" x2="43.2" y2="993.6" class="t"/>
<text x="15.48" y="998.6" font-size="12.93" textLength="18.85" lengthAdjust="spacingAndGlyphs">0.0</text>
<line x1="38.65" y1="942.08" x2="43.2" y2="942.08" class="t"/>
<text x="15.9" y="947.08" font-size="12.93" textLength="18.57" lengthAdjust="spacingAndGlyphs">0.2</text>
<line x1="38.65" y1="890.56" x2="43.2" y2="890.56" class="t"/>
<text x="15.36" y="895.56" font-size="12.93" textLength="18.84" lengthAdjust="spacingAndGlyphs">0.4</text>
<line x1="38.65" y1="839.04" x2="43.2" y2="839.04" class="t"/>
<text x="15.44" y="844.04" font-size="12.93" textLength="18.96" lengthAdjust="spacingAndGlyphs">0.6</text>
<line x1="38.65" y1="787.52" x2="43.2" y2="787.52" class="t"/>
<text x="15.51" y="792.52" font-size="12.93" textLength="18.88" lengthAdjust="spacingAndGlyphs">0.8</text>
<line x1="38.65" y1="736" x2="43.2" y2="736" class="t"/>
<text x="15.52" y="741" font-size="12.93" textLength="18.81" lengthAdjust="spacingAndGlyphs">1.0</text>
<text x="345.07" y="1041.7" font-size="12.93" textLength="37.04" lengthAdjust="spacingAndGlyphs">Epoch</text>
<text x="333.13" y="716.2" font-size="15.21" textLength="60.56" lengthAdjust="spacingAndGlyphs">R² Score</text>
<rect x="574.8" y="833.2" width="103" height="167" rx="2.6" class="lg"/>
<line x1="579.2" y1="843.1" x2="605.2" y2="843.1" stroke="#1f77b4" class="l"/>
<text x="614.56" y="847.4" font-size="12.93" textLength="27.31" lengthAdjust="spacingAndGlyphs">DNN</text>
<line x1="579.2" y1="861.22" x2="605.2" y2="861.22" stroke="#ff7f0e" class="l"/>
<text x="614.54" y="865.52" font-size="12.93" textLength="53.18" lengthAdjust="spacingAndGlyphs">adaptive</text>
<line x1="579.2" y1="879.35" x2="605.2" y2="879.35" stroke="#2ca02c" class="l"/>
<text x="614.5" y="883.65" font-size="12.93" textLength="43.94" lengthAdjust="spacingAndGlyphs">at+sim</text>
<line x1="579.2" y1="897.47" x2="605.2" y2="897.47" stroke="#d62728" class="l"/>
<text x="614.63" y="901.77" font-size="12.93" textLength="50.83" lengthAdjust="spacingAndGlyphs">baseline</text>
<line x1="579.2" y1="915.6" x2="605.2" y2="915.6" stroke="#9467bd" class="l"/>
<text x="614.47" y="919.9" font-size="12.93" textLength="18.56" lengthAdjust="spacingAndGlyphs">full</text>
<line x1="579.2" y1="933.72" x2="605.2" y2="933.72" stroke="#8c564b" class="l"/>
<text x="614.65" y="938.02" font-size="12.93" textLength="36.14" lengthAdjust="spacingAndGlyphs">sd+at</text>
<line x1="579.2" y1="951.85" x2="605.2" y2="951.85" stroke="#e377c2" class="l"/>
<text x="614.66" y="956.15" font-size="12.93" textLength="45.59" lengthAdjust="spacingAndGlyphs">sd+sim</text>
<line x1="579.2" y1="969.97" x2="605.2" y2="969.97" stroke="#7f7f7f" class="l"/>
<text x="614.67" y="974.27" font-size="12.93" textLength="57.92" lengthAdjust="spacingAndGlyphs">self-distill</text>
<line x1="579.2" y1="988.1" x2="605.2" y2="988.1" stroke="#bcbd22" class="l"/>
<text x="614.66" y="992.4" font-size="12.93" textLength="55.7" lengthAdjust="spacingAndGlyphs">similarity</text>
<clipPath id="c3"><rect x="43.2" y="1075.4" width="640.7" height="282.9"/></clipPath>
<g clip-path="url(#c3)">
<polygon points="119.87,1093 131.76,1097.9 143.65,1093.5 155.53,1105.4 167.42,1122.3 179.31,1141 191.19,1164.5 203.08,1183.6 214.97,1202.8 226.86,1217.6 238.74,1230 250.63,1242 262.52,1252 274.4,1263 286.29,1273 298.18,1283 310.06,1290.64 321.95,1297 333.84,1301.12 345.72,1304.81 357.61,1306.93 369.5,1308.81 381.38,1310.67 393.27,1312.42 405.16,1313.96 417.04,1315.2 428.93,1316.21 440.82,1317.13 452.7,1317.96 464.59,1318.71 476.48,1319.39 488.36,1320 500.25,1320.55 512.14,1321.07 524.03,1321.53 535.91,1321.85 547.8,1322.06 559.69,1322.26 571.57,1322.44 583.46,1322.6 595.35,1322.75 607.23,1322.87 619.12,1322.97 631.01,1323.04 642.89,1323.08 654.78,1323.1 654.78,1325.1 642.89,1325.09 631.01,1325.05 619.12,1325 607.23,1324.92 595.35,1324.83 583.46,1324.72 571.57,1324.6 559.69,1324.46 547.8,1324.31 535.91,1324.15 524.03,1323.9 512.14,1323.5 500.25,1323.05 488.36,1322.56 476.48,1322.02 464.59,1321.41 452.7,1320.73 440.82,1319.98 428.93,1319.14 417.04,1318.2 405.16,1317.03 393.27,1315.56 381.38,1313.89 369.5,1312.12 357.61,1310.36 345.72,1308.39 333.84,1304.88 321.95,1301 310.06,1295.36 298.18,1289 286.29,1281 274.4,1273 262.52,1264 250.63,1256 238.74,1247 226.86,1237.6 214.97,1224.8 203.08,1207.2 191.19,1189.5 179.31,1167 167.42,1146.3 155.53,1126.6 143.65,1113.3 131.76,1105.9 119.87,1101.4" fill="#cdd7ea"/>
<polygon points="72.33,1145.7 84.21,1169 96.1,1193.52 107.99,1212.03 119.87,1226.49 131.76,1238.29 143.65,1249.18 155.53,1259.14 167.42,1269.14 179.31,1279.4 191.19,1286.27 203.08,1292.33 214.97,1296.88 226.86,1300.43 238.74,1303.5 250.63,1306.7 262.52,1309.23 274.4,1311.44 286.29,1313.44 298.18,1315.2 310.06,1316.81 321.95,1318.35 333.84,1319.82 345.72,1321.2 357.61,1322.47 369.5,1323.62 381.38,1324.67 393.27,1325.66 405.16,1326.62 417.04,1327.6 428.93,1328.62 440.82,1329.67 452.7,1330.72 464.59,1331.74 476.48,1332.69 488.36,1333.55 500.25,1334.27 512.14,1334.86 524.03,1335.37 535.91,1335.88 547.8,1336.42 559.69,1336.95 571.57,1337.49 583.46,1338.02 595.35,1338.55 607.23,1339.09 619.12,1339.62 631.01,1340.15 642.89,1340.67 654.78,1341.2 654.78,1347.2 642.89,1346.76 631.01,1346.31 619.12,1345.86 607.23,1345.4 595.35,1344.94 583.46,1344.48 571.57,1344.01 559.69,1343.54 547.8,1343.07 535.91,1342.59 524.03,1342.13 512.14,1341.67 500.25,1341.13 488.36,1340.44 476.48,1339.62 464.59,1338.69 452.7,1337.7 440.82,1336.66 428.93,1335.62 417.04,1334.6 405.16,1333.62 393.27,1332.66 381.38,1331.67 369.5,1330.62 357.61,1329.47 345.72,1328.2 333.84,1326.82 321.95,1325.35 310.06,1323.81 298.18,1322.2 286.29,1320.52 274.4,1318.72 262.52,1316.77 250.63,1314.5 238.74,1311.5 226.86,1308.57 214.97,1305.12 203.08,1300.67 191.19,1294.73 179.31,1288 167.42,1277.97 155.53,1268.26 143.65,1258.65 131.76,1248.29 119.87,1237.51 107.99,1224.76 96.1,1208.52 84.21,1188 72.33,1171.7" fill="#ff7f0e" fill-opacity="0.18"/>
<polygon points="72.33,1138.8 84.21,1165.01 96.1,1190.52 107.99,1209.67 119.87,1224.53 131.76,1236.65 143.65,1247.82 155.53,1258.01 167.42,1268.17 179.31,1278.49 191.19,1285.38 203.08,1291.44 214.97,1296 226.86,1299.57 238.74,1302.64 250.63,1305.85 262.52,1308.39 274.4,1310.61 286.29,1312.62 298.18,1314.39 310.06,1316 321.95,1317.53 333.84,1318.97 345.72,1320.3 357.61,1321.52 369.5,1322.61 381.38,1323.59 393.27,1324.51 405.16,1325.39 417.04,1326.3 428.93,1327.25 440.82,1328.23 452.7,1329.22 464.59,1330.19 476.48,1331.1 488.36,1331.93 500.25,1332.64 512.14,1333.23 524.03,1333.74 535.91,1334.24 547.8,1334.78 559.69,1335.31 571.57,1335.85 583.46,1336.38 595.35,1336.92 607.23,1337.46 619.12,1337.99 631.01,1338.53 642.89,1339.07 654.78,1339.6 654.78,1345.6 642.89,1345.15 631.01,1344.69 619.12,1344.24 607.23,1343.77 595.35,1343.31 583.46,1342.85 571.57,1342.38 559.69,1341.9 547.8,1341.43 535.91,1340.95 524.03,1340.5 512.14,1340.03 500.25,1339.49 488.36,1338.82 476.48,1338.02 464.59,1337.14 452.7,1336.19 440.82,1335.22 428.93,1334.24 417.04,1333.3 405.16,1332.39 393.27,1331.51 381.38,1330.59 369.5,1329.61 357.61,1328.52 345.72,1327.3 333.84,1325.97 321.95,1324.53 310.06,1323 298.18,1321.39 286.29,1319.7 274.4,1317.89 262.52,1315.93 250.63,1313.65 238.74,1310.64 226.86,1307.7 214.97,1304.24 203.08,1299.78 191.19,1293.83 179.31,1287.09 167.42,1276.99 155.53,1267.13 143.65,1257.3 131.76,1246.65 119.87,1235.55 107.99,1222.39 96.1,1205.52 84.21,1184.01 72.33,1164.8" fill="#2ca02c" fill-opacity="0.18"/>
<polygon points="72.33,1141.6 84.21,1175 96.1,1195.5 107.99,1213.19 119.87,1227.49 131.76,1239.67 143.65,1251.01 155.53,1261.39 167.42,1271.71 179.31,1282.1 191.19,1288.91 203.08,1294.82 214.97,1299.18 226.86,1302.56 238.74,1305.5 250.63,1308.65 262.52,1311.1 274.4,1312.85 286.29,1314.24 298.18,1315.7 310.06,1317.3 321.95,1318.82 333.84,1320.24 345.72,1321.57 357.61,1322.77 369.5,1323.9 381.38,1325.02 393.27,1326.11 405.16,1327.14 417.04,1328.1 428.93,1329.04 440.82,1330.02 452.7,1331 464.59,1331.95 476.48,1332.85 488.36,1333.67 500.25,1334.37 512.14,1334.95 524.03,1335.45 535.91,1335.95 547.8,1336.47 559.69,1336.99 571.57,1337.51 583.46,1338.03 595.35,1338.54 607.23,1339.06 619.12,1339.57 631.01,1340.08 642.89,1340.59 654.78,1341.1 654.78,1345.9 642.89,1345.46 631.01,1345.01 619.12,1344.57 607.23,1344.11 595.35,1343.66 583.46,1343.2 571.57,1342.73 559.69,1342.26 547.8,1341.79 535.91,1341.31 524.03,1340.86 512.14,1340.4 500.25,1339.86 488.36,1339.18 476.48,1338.39 464.59,1337.51 452.7,1336.57 440.82,1335.6 428.93,1334.64 417.04,1333.7 405.16,1332.74 393.27,1331.71 381.38,1330.62 369.5,1329.5 357.61,1328.37 345.72,1327.17 333.84,1325.84 321.95,1324.42 310.06,1322.9 298.18,1321.3 286.29,1319.9 274.4,1318.67 262.52,1317.13 250.63,1314.89 238.74,1311.9 226.86,1309.12 214.97,1305.97 203.08,1301.9 191.19,1296.31 179.31,1289.84 167.42,1279.83 155.53,1269.94 143.65,1260.12 131.76,1249.67 119.87,1240.85 107.99,1231 96.1,1216.5 84.21,1201.6 72.33,1167.6" fill="#d62728" fill-opacity="0.18"/>
<polygon points="72.33,1135.8 84.21,1162.31 96.1,1188.09 107.99,1207.46 119.87,1222.49 131.76,1234.73 143.65,1246.01 155.53,1256.28 167.42,1266.51 179.31,1276.9 191.19,1283.84 203.08,1289.97 214.97,1294.59 226.86,1298.21 238.74,1301.34 250.63,1304.59 262.52,1307.17 274.4,1309.41 286.29,1311.43 298.18,1313.2 310.06,1314.8 321.95,1316.32 333.84,1317.74 345.72,1319.07 357.61,1320.27 369.5,1321.35 381.38,1322.33 393.27,1323.23 405.16,1324.11 417.04,1325 428.93,1325.94 440.82,1326.92 452.7,1327.9 464.59,1328.85 476.48,1329.75 488.36,1330.57 500.25,1331.27 512.14,1331.85 524.03,1332.35 535.91,1332.85 547.8,1333.37 559.69,1333.89 571.57,1334.42 583.46,1334.95 595.35,1335.47 607.23,1336 619.12,1336.52 631.01,1337.05 642.89,1337.58 654.78,1338.1 654.78,1344.1 642.89,1343.66 631.01,1343.21 619.12,1342.77 607.23,1342.32 595.35,1341.86 583.46,1341.41 571.57,1340.95 559.69,1340.49 547.8,1340.02 535.91,1339.55 524.03,1339.11 512.14,1338.66 500.25,1338.13 488.36,1337.46 476.48,1336.68 464.59,1335.8 452.7,1334.87 440.82,1333.9 428.93,1332.94 417.04,1332 405.16,1331.11 393.27,1330.23 381.38,1329.33 369.5,1328.35 357.61,1327.27 345.72,1326.07 333.84,1324.74 321.95,1323.32 310.06,1321.8 298.18,1320.2 286.29,1318.51 274.4,1316.69 262.52,1314.71 250.63,1312.39 238.74,1309.34 226.86,1306.34 214.97,1302.83 203.08,1298.31 191.19,1292.3 179.31,1285.5 167.42,1275.34 155.53,1265.41 143.65,1255.49 131.76,1244.73 119.87,1233.51 107.99,1220.18 96.1,1203.09 84.21,1181.31 72.33,1161.8" fill="#9467bd" fill-opacity="0.2"/>
<polygon points="72.33,1138.8 84.21,1165.2 96.1,1190.88 107.99,1210.18 119.87,1225.17 131.76,1237.39 143.65,1248.64 155.53,1258.89 167.42,1269.07 179.31,1279.4 191.19,1286.25 203.08,1292.25 214.97,1296.7 226.86,1300.13 238.74,1303.07 250.63,1306.13 262.52,1308.53 274.4,1310.61 286.29,1312.51 298.18,1314.2 310.06,1315.75 321.95,1317.21 333.84,1318.58 345.72,1319.85 357.61,1321.01 369.5,1322.04 381.38,1322.96 393.27,1323.82 405.16,1324.65 417.04,1325.5 428.93,1326.39 440.82,1327.33 452.7,1328.27 464.59,1329.18 476.48,1330.05 488.36,1330.83 500.25,1331.5 512.14,1332.04 524.03,1332.51 535.91,1332.98 547.8,1333.48 559.69,1333.98 571.57,1334.49 583.46,1335 595.35,1335.51 607.23,1336.02 619.12,1336.54 631.01,1337.06 642.89,1337.58 654.78,1338.1 654.78,1344.1 642.89,1343.66 631.01,1343.22 619.12,1342.78 607.23,1342.34 595.35,1341.9 583.46,1341.46 571.57,1341.02 559.69,1340.58 547.8,1340.13 535.91,1339.69 524.03,1339.27 512.14,1338.85 500.25,1338.35 488.36,1337.72 476.48,1336.97 464.59,1336.13 452.7,1335.24 440.82,1334.31 428.93,1333.39 417.04,1332.5 405.16,1331.65 393.27,1330.82 381.38,1329.96 369.5,1329.04 357.61,1328.01 345.72,1326.85 333.84,1325.58 321.95,1324.21 310.06,1322.75 298.18,1321.2 286.29,1319.59 274.4,1317.89 262.52,1316.07 250.63,1313.93 238.74,1311.07 226.86,1308.27 214.97,1304.94 203.08,1300.58 191.19,1294.7 179.31,1288 167.42,1277.9 155.53,1268.01 143.65,1258.12 131.76,1247.39 119.87,1236.19 107.99,1222.9 96.1,1205.88 84.21,1184.2 72.33,1164.8" fill="#8c564b" fill-opacity="0.18"/>
<polygon points="72.33,1136 84.21,1161.55 96.1,1186.64 107.99,1205.64 119.87,1220.61 131.76,1233 143.65,1244.79 155.53,1255.65 167.42,1265.89 179.31,1276.2 191.19,1282.93 203.08,1288.64 214.97,1292.77 226.86,1295.98 238.74,1298.9 250.63,1302.51 262.52,1305.33 274.4,1307.54 286.29,1309.54 298.18,1311.3 310.06,1312.83 321.95,1314.19 333.84,1315.41 345.72,1316.56 357.61,1317.68 369.5,1318.83 381.38,1320.04 393.27,1321.26 405.16,1322.4 417.04,1323.4 428.93,1324.28 440.82,1325.1 452.7,1325.86 464.59,1326.58 476.48,1327.27 488.36,1327.93 500.25,1328.57 512.14,1329.33 524.03,1330.17 535.91,1330.85 547.8,1331.37 559.69,1331.89 571.57,1332.41 583.46,1332.93 595.35,1333.45 607.23,1333.95 619.12,1334.46 631.01,1334.95 642.89,1335.43 654.78,1335.9 654.78,1341.9 642.89,1341.51 631.01,1341.11 619.12,1340.7 607.23,1340.27 595.35,1339.84 583.46,1339.39 571.57,1338.94 559.69,1338.48 547.8,1338.02 535.91,1337.55 524.03,1336.93 512.14,1336.14 500.25,1335.43 488.36,1334.82 476.48,1334.19 464.59,1333.53 452.7,1332.83 440.82,1332.08 428.93,1331.28 417.04,1330.4 405.16,1329.4 393.27,1328.26 381.38,1327.04 369.5,1325.83 357.61,1324.68 345.72,1323.56 333.84,1322.41 321.95,1321.19 310.06,1319.83 298.18,1318.3 286.29,1316.62 274.4,1314.82 262.52,1312.87 250.63,1310.31 238.74,1306.9 226.86,1304.11 214.97,1301.01 203.08,1296.98 191.19,1291.38 179.31,1284.8 167.42,1274.71 155.53,1264.77 143.65,1254.26 131.76,1243 119.87,1231.64 107.99,1218.36 96.1,1201.64 84.21,1180.55 72.33,1162" fill="#e377c2" fill-opacity="0.18"/>
<polygon points="72.33,1139.8 84.21,1166.23 96.1,1192.19 107.99,1211.94 119.87,1227.49 131.76,1240.6 143.65,1251.46 155.53,1261.04 167.42,1270.71 179.31,1280.6 191.19,1287.18 203.08,1292.99 214.97,1297.33 226.86,1300.69 238.74,1303.58 250.63,1306.6 262.52,1308.94 274.4,1310.95 286.29,1312.71 298.18,1314.2 310.06,1315.39 321.95,1316.37 333.84,1317.23 345.72,1318.1 357.61,1319.08 369.5,1320.15 381.38,1321.13 393.27,1322.03 405.16,1322.91 417.04,1323.8 428.93,1324.74 440.82,1325.72 452.7,1326.7 464.59,1327.65 476.48,1328.55 488.36,1329.37 500.25,1330.07 512.14,1330.65 524.03,1331.17 535.91,1331.7 547.8,1332.26 559.69,1332.83 571.57,1333.41 583.46,1333.99 595.35,1333.63 607.23,1330.76 619.12,1334.85 631.01,1335.99 642.89,1336.9 654.78,1337.6 654.78,1343.6 642.89,1343.08 631.01,1342.55 619.12,1342.03 607.23,1341.5 595.35,1340.98 583.46,1340.45 571.57,1339.93 559.69,1339.42 547.8,1338.91 535.91,1338.41 524.03,1337.93 512.14,1337.46 500.25,1336.93 488.36,1336.26 476.48,1335.48 464.59,1334.6 452.7,1333.67 440.82,1332.7 428.93,1331.74 417.04,1330.8 405.16,1329.91 393.27,1329.03 381.38,1328.13 369.5,1327.15 357.61,1326.08 345.72,1325.1 333.84,1324.23 321.95,1323.37 310.06,1322.39 298.18,1321.2 286.29,1319.79 274.4,1318.23 262.52,1316.48 250.63,1314.4 238.74,1311.58 226.86,1308.94 214.97,1306.02 203.08,1302.27 191.19,1297.15 179.31,1291.35 167.42,1282.73 155.53,1273.79 143.65,1264.49 131.76,1254.1 119.87,1242.21 107.99,1228.78 96.1,1211.69 84.21,1188.9 72.33,1165.8" fill="#7f7f7f" fill-opacity="0.2"/>
<polygon points="72.33,1138.8 84.21,1165 96.1,1190.5 107.99,1209.64 119.87,1224.49 131.76,1236.6 143.65,1247.76 155.53,1257.94 167.42,1268.09 179.31,1278.4 191.19,1285.27 203.08,1291.33 214.97,1295.88 226.86,1299.43 238.74,1302.5 250.63,1305.7 262.52,1308.23 274.4,1310.44 286.29,1312.44 298.18,1314.2 310.06,1315.8 321.95,1317.32 333.84,1318.74 345.72,1320.07 357.61,1321.27 369.5,1322.35 381.38,1323.33 393.27,1324.23 405.16,1325.11 417.04,1326 428.93,1326.94 440.82,1327.92 452.7,1328.9 464.59,1329.85 476.48,1330.75 488.36,1331.57 500.25,1332.27 512.14,1332.85 524.03,1333.35 535.91,1333.85 547.8,1334.37 559.69,1334.89 571.57,1335.42 583.46,1335.95 595.35,1336.47 607.23,1337 619.12,1337.52 631.01,1338.05 642.89,1338.58 654.78,1339.1 654.78,1345.1 642.89,1344.66 631.01,1344.21 619.12,1343.77 607.23,1343.32 595.35,1342.86 583.46,1342.41 571.57,1341.95 559.69,1341.49 547.8,1341.02 535.91,1340.55 524.03,1340.11 512.14,1339.66 500.25,1339.13 488.36,1338.46 476.48,1337.68 464.59,1336.8 452.7,1335.87 440.82,1334.9 428.93,1333.94 417.04,1333 405.16,1332.11 393.27,1331.23 381.38,1330.33 369.5,1329.35 357.61,1328.27 345.72,1327.07 333.84,1325.74 321.95,1324.32 310.06,1322.8 298.18,1321.2 286.29,1319.52 274.4,1317.72 262.52,1315.77 250.63,1313.5 238.74,1310.5 226.86,1307.57 214.97,1304.12 203.08,1299.67 191.19,1293.73 179.31,1287 167.42,1276.91 155.53,1267.06 143.65,1257.24 131.76,1246.6 119.87,1235.51 107.99,1222.36 96.1,1205.5 84.21,1184 72.33,1164.8" fill="#bcbd22" fill-opacity="0.18"/>
<line x1="60.44" y1="1075.4" x2="60.44" y2="1358.3" class="g"/>
<line x1="179.31" y1="1075.4" x2="179.31" y2="1358.3" class="g"/>
<line x1="298.18" y1="1075.4" x2="298.18" y2="1358.3" class="g"/>
<line x1="417.04" y1="1075.4" x2="417.04" y2="1358.3" class="g"/>
<line x1="535.91" y1="1075.4" x2="535.91" y2="1358.3" class="g"/>
<line x1="654.78" y1="1075.4" x2="654.78" y2="1358.3" class="g"/>
<line x1="43.2" y1="1330.3" x2="683.9" y2="1330.3" class="g"/>
<line x1="43.2" y1="1285.94" x2="683.9" y2="1285.94" class="g"/>
<line x1="43.2" y1="1241.58" x2="683.9" y2="1241.58" class="g"/>
<line x1="43.2" y1="1197.22" x2="683.9" y2="1197.22" class="g"/>
<line x1="43.2" y1="1152.86" x2="683.9" y2="1152.86" class="g"/>
<line x1="43.2" y1="1108.5" x2="683.9" y2="1108.5" class="g"/>
<polyline points="72.33,1088.5 84.21,1089 96.1,1089.9 107.99,1091.7 119.87,1097.2 131.76,1101.9 143.65,1103.4 155.53,1116 167.42,1134.3 179.31,1154 191.19,1177 203.08,1195.4 214.97,1213.8 226.86,1227.6 238.74,1238.5 250.63,1249 262.52,1258 274.4,1268 286.29,1277 298.18,1286 310.06,1293 321.95,1299 333.84,1303 345.72,1306.6 357.61,1308.64 369.5,1310.47 381.38,1312.28 393.27,1313.99 405.16,1315.49 417.04,1316.7 428.93,1317.68 440.82,1318.56 452.7,1319.35 464.59,1320.06 476.48,1320.7 488.36,1321.28 500.25,1321.8 512.14,1322.29 524.03,1322.71 535.91,1323 547.8,1323.19 559.69,1323.36 571.57,1323.52 583.46,1323.66 595.35,1323.79 607.23,1323.9 619.12,1323.98 631.01,1324.05 642.89,1324.09 654.78,1324.1" fill="none" stroke="#1f77b4" class="l"/>
<polyline points="72.33,1158.7 84.21,1178.5 96.1,1201.02 107.99,1218.39 119.87,1232 131.76,1243.29 143.65,1253.92 155.53,1263.7 167.42,1273.55 179.31,1283.7 191.19,1290.5 203.08,1296.5 214.97,1301 226.86,1304.5 238.74,1307.5 250.63,1310.6 262.52,1313 274.4,1315.08 286.29,1316.98 298.18,1318.7 310.06,1320.31 321.95,1321.85 333.84,1323.32 345.72,1324.7 357.61,1325.97 369.5,1327.12 381.38,1328.17 393.27,1329.16 405.16,1330.12 417.04,1331.1 428.93,1332.12 440.82,1333.17 452.7,1334.21 464.59,1335.22 476.48,1336.16 488.36,1336.99 500.25,1337.7 512.14,1338.27 524.03,1338.75 535.91,1339.24 547.8,1339.74 559.69,1340.25 571.57,1340.75 583.46,1341.25 595.35,1341.75 607.23,1342.25 619.12,1342.74 631.01,1343.23 642.89,1343.72 654.78,1344.2" fill="none" stroke="#ff7f0e" class="l"/>
<polyline points="72.33,1151.8 84.21,1174.51 96.1,1198.02 107.99,1216.03 119.87,1230.04 131.76,1241.65 143.65,1252.56 155.53,1262.57 167.42,1272.58 179.31,1282.79 191.19,1289.6 203.08,1295.61 214.97,1300.12 226.86,1303.63 238.74,1306.64 250.63,1309.75 262.52,1312.16 274.4,1314.25 286.29,1316.16 298.18,1317.89 310.06,1319.5 321.95,1321.03 333.84,1322.47 345.72,1323.8 357.61,1325.02 369.5,1326.11 381.38,1327.09 393.27,1328.01 405.16,1328.89 417.04,1329.8 428.93,1330.74 440.82,1331.73 452.7,1332.71 464.59,1333.66 476.48,1334.56 488.36,1335.37 500.25,1336.07 512.14,1336.63 524.03,1337.12 535.91,1337.6 547.8,1338.1 559.69,1338.61 571.57,1339.11 583.46,1339.61 595.35,1340.12 607.23,1340.62 619.12,1341.11 631.01,1341.61 642.89,1342.11 654.78,1342.6" fill="none" stroke="#2ca02c" class="l"/>
<polyline points="72.33,1154.6 84.21,1184.5 96.1,1203 107.99,1219.55 119.87,1233 131.76,1244.67 143.65,1255.75 155.53,1265.95 167.42,1276.13 179.31,1286.4 191.19,1293.14 203.08,1298.99 214.97,1303.3 226.86,1306.62 238.74,1309.5 250.63,1312.55 262.52,1314.87 274.4,1316.49 286.29,1317.78 298.18,1319.2 310.06,1320.8 321.95,1322.32 333.84,1323.74 345.72,1325.07 357.61,1326.27 369.5,1327.4 381.38,1328.52 393.27,1329.61 405.16,1330.64 417.04,1331.6 428.93,1332.54 440.82,1333.51 452.7,1334.48 464.59,1335.43 476.48,1336.31 488.36,1337.12 500.25,1337.8 512.14,1338.35 524.03,1338.83 535.91,1339.3 547.8,1339.79 559.69,1340.29 571.57,1340.77 583.46,1341.26 595.35,1341.74 607.23,1342.22 619.12,1342.69 631.01,1343.16 642.89,1343.63 654.78,1344.1" fill="none" stroke="#d62728" class="l"/>
<polyline points="72.33,1148.8 84.21,1171.81 96.1,1195.59 107.99,1213.82 119.87,1228 131.76,1239.73 143.65,1250.75 155.53,1260.84 167.42,1270.93 179.31,1281.2 191.19,1288.07 203.08,1294.14 214.97,1298.71 226.86,1302.28 238.74,1305.34 250.63,1308.49 262.52,1310.94 274.4,1313.05 286.29,1314.97 298.18,1316.7 310.06,1318.3 321.95,1319.82 333.84,1321.24 345.72,1322.57 357.61,1323.77 369.5,1324.85 381.38,1325.83 393.27,1326.73 405.16,1327.61 417.04,1328.5 428.93,1329.44 440.82,1330.41 452.7,1331.38 464.59,1332.33 476.48,1333.21 488.36,1334.02 500.25,1334.7 512.14,1335.25 524.03,1335.73 535.91,1336.2 547.8,1336.7 559.69,1337.19 571.57,1337.68 583.46,1338.18 595.35,1338.67 607.23,1339.16 619.12,1339.64 631.01,1340.13 642.89,1340.62 654.78,1341.1" fill="none" stroke="#9467bd" class="l"/>
<polyline points="72.33,1151.8 84.21,1174.7 96.1,1198.38 107.99,1216.54 119.87,1230.68 131.76,1242.39 143.65,1253.38 155.53,1263.45 167.42,1273.49 179.31,1283.7 191.19,1290.48 203.08,1296.41 214.97,1300.82 226.86,1304.2 238.74,1307.07 250.63,1310.03 262.52,1312.3 274.4,1314.25 286.29,1316.05 298.18,1317.7 310.06,1319.25 321.95,1320.71 333.84,1322.08 345.72,1323.35 357.61,1324.51 369.5,1325.54 381.38,1326.46 393.27,1327.32 405.16,1328.15 417.04,1329 428.93,1329.89 440.82,1330.82 452.7,1331.75 464.59,1332.66 476.48,1333.51 488.36,1334.28 500.25,1334.93 512.14,1335.45 524.03,1335.89 535.91,1336.34 547.8,1336.81 559.69,1337.28 571.57,1337.75 583.46,1338.23 595.35,1338.7 607.23,1339.18 619.12,1339.66 631.01,1340.14 642.89,1340.62 654.78,1341.1" fill="none" stroke="#8c564b" class="l"/>
<polyline points="72.33,1149 84.21,1171.05 96.1,1194.14 107.99,1212 119.87,1226.13 131.76,1238 143.65,1249.53 155.53,1260.21 167.42,1270.3 179.31,1280.5 191.19,1287.15 203.08,1292.81 214.97,1296.89 226.86,1300.05 238.74,1302.9 250.63,1306.41 262.52,1309.1 274.4,1311.18 286.29,1313.08 298.18,1314.8 310.06,1316.33 321.95,1317.69 333.84,1318.91 345.72,1320.06 357.61,1321.18 369.5,1322.33 381.38,1323.54 393.27,1324.76 405.16,1325.9 417.04,1326.9 428.93,1327.78 440.82,1328.59 452.7,1329.35 464.59,1330.06 476.48,1330.73 488.36,1331.38 500.25,1332 512.14,1332.73 524.03,1333.55 535.91,1334.2 547.8,1334.7 559.69,1335.19 571.57,1335.68 583.46,1336.16 595.35,1336.64 607.23,1337.11 619.12,1337.58 631.01,1338.03 642.89,1338.47 654.78,1338.9" fill="none" stroke="#e377c2" class="l"/>
<polyline points="72.33,1152.8 84.21,1175.73 96.1,1199.69 107.99,1218.3 119.87,1233 131.76,1245.6 143.65,1256.19 155.53,1265.61 167.42,1275.12 179.31,1284.9 191.19,1291.41 203.08,1297.16 214.97,1301.45 226.86,1304.75 238.74,1307.58 250.63,1310.5 262.52,1312.71 274.4,1314.59 286.29,1316.25 298.18,1317.7 310.06,1318.89 321.95,1319.87 333.84,1320.73 345.72,1321.6 357.61,1322.58 369.5,1323.65 381.38,1324.63 393.27,1325.53 405.16,1326.41 417.04,1327.3 428.93,1328.24 440.82,1329.21 452.7,1330.18 464.59,1331.13 476.48,1332.01 488.36,1332.82 500.25,1333.5 512.14,1334.06 524.03,1334.55 535.91,1335.05 547.8,1335.58 559.69,1336.12 571.57,1336.67 583.46,1337.22 595.35,1337.78 607.23,1338.34 619.12,1338.9 631.01,1339.47 642.89,1340.04 654.78,1340.6" fill="none" stroke="#7f7f7f" class="l"/>
<polyline points="72.33,1151.8 84.21,1174.5 96.1,1198 107.99,1216 119.87,1230 131.76,1241.6 143.65,1252.5 155.53,1262.5 167.42,1272.5 179.31,1282.7 191.19,1289.5 203.08,1295.5 214.97,1300 226.86,1303.5 238.74,1306.5 250.63,1309.6 262.52,1312 274.4,1314.08 286.29,1315.98 298.18,1317.7 310.06,1319.3 321.95,1320.82 333.84,1322.24 345.72,1323.57 357.61,1324.77 369.5,1325.85 381.38,1326.83 393.27,1327.73 405.16,1328.61 417.04,1329.5 428.93,1330.44 440.82,1331.41 452.7,1332.38 464.59,1333.33 476.48,1334.21 488.36,1335.02 500.25,1335.7 512.14,1336.25 524.03,1336.73 535.91,1337.2 547.8,1337.7 559.69,1338.19 571.57,1338.68 583.46,1339.18 595.35,1339.67 607.23,1340.16 619.12,1340.64 631.01,1341.13 642.89,1341.62 654.78,1342.1" fill="none" stroke="#bcbd22" class="l"/>
</g>
<rect x="43.2" y="1075.4" width="640.7" height="282.9" class="sp"/>
<line x1="60.44" y1="1358.3" x2="60.44" y2="1362.85" class="t"/>
<text x="56.96" y="1376.5" font-size="12.93" textLength="7.15" lengthAdjust="spacingAndGlyphs">0</text>
<line x1="179.31" y1="1358.3" x2="179.31" y2="1362.85" class="t"/>
<text x="167.8" y="1376.5" font-size="12.93" textLength="22.7" lengthAdjust="spacingAndGlyphs">100</text>
<line x1="298.18" y1="1358.3" x2="298.18" y2="1362.85" class="t"/>
<text x="286.8" y="1376.5" font-size="12.93" textLength="22.8" lengthAdjust="spacingAndGlyphs">200</text>
<line x1="417.04" y1="1358.3" x2="417.04" y2="1362.85" class="t"/>
<text x="405.86" y="1376.5" font-size="12.93" textLength="22.59" lengthAdjust="spacingAndGlyphs">300</text>
<line x1="535.91" y1="1358.3" x2="535.91" y2="1362.85" class="t"/>
<text x="524.76" y="1376.5" font-size="12.93" textLength="22.72" lengthAdjust="spacingAndGlyphs">400</text>
<line x1="654.78" y1="1358.3" x2="654.78" y2="1362.85" class="t"/>
<text x="643.57" y="1376.5" font-size="12.93" textLength="22.61" lengthAdjust="spacingAndGlyphs">500</text>
<line x1="38.65" y1="1330.3" x2="43.2" y2="1330.3" class="t"/>
<text x="7.98" y="1335.3" font-size="12.93" textLength="26.39" lengthAdjust="spacingAndGlyphs">0.05</text>
<line x1="38.65" y1="1285.94" x2="43.2" y2="1285.94" class="t"/>
<text x="7.72" y="1290.94" font-size="12.93" textLength="26.62" lengthAdjust="spacingAndGlyphs">0.10</text>
<line x1="38.65" y1="1241.58" x2="43.2" y2="1241.58" class="t"/>
<text x="7.98" y="1246.58" font-size="12.93" textLength="26.39" lengthAdjust="spacingAndGlyphs">0.15</text>
<line x1="38.65" y1="1197.22" x2="43.2" y2="1197.22" class="t"/>
<text x="7.72" y="1202.22" font-size="12.93" textLength="26.62" lengthAdjust="spacingAndGlyphs">0.20</text>
<line x1="38.65" y1="1152.86" x2="43.2" y2="1152.86" class="t"/>
<text x="7.98" y="1157.86" font-size="12.93" textLength="26.39" lengthAdjust="spacingAndGlyphs">0.25</text>
<line x1="38.65" y1="1108.5" x2="43.2" y2="1108.5" class="t"/>
<text x="7.72" y="1113.5" font-size="12.93" textLength="26.62" lengthAdjust="spacingAndGlyphs">0.30</text>
<text x="345.07" y="1393.6" font-size="12.93" textLength="37.04" lengthAdjust="spacingAndGlyphs">Epoch</text>
<text x="330.95" y="1068" font-size="15.21" textLength="65.19" lengthAdjust="spacingAndGlyphs">MAE (eV)</text>
<rect x="574.8" y="1081.8" width="103" height="167" rx="2.6" class="lg"/>
<line x1="579.2" y1="1091.7" x2="605.2" y2="1091.7" stroke="#1f77b4" class="l"/>
<text x="614.56" y="1096" font-size="12.93" textLength="27.31" lengthAdjust="spacingAndGlyphs">DNN</text>
<line x1="579.2" y1="1109.83" x2="605.2" y2="1109.83" stroke="#ff7f0e" class="l"/>
<text x="614.54" y="1114.13" font-size="12.93" textLength="53.18" lengthAdjust="spacingAndGlyphs">adaptive</text>
<line x1="579.2" y1="1127.95" x2="605.2" y2="1127.95" stroke="#2ca02c" class="l"/>
<text x="614.5" y="1132.25" font-size="12.93" textLength="43.94" lengthAdjust="spacingAndGlyphs">at+sim</text>
<line x1="579.2" y1="1146.08" x2="605.2" y2="1146.08" stroke="#d62728" class="l"/>
<text x="614.63" y="1150.38" font-size="12.93" textLength="50.83" lengthAdjust="spacingAndGlyphs">baseline</text>
<line x1="579.2" y1="1164.2" x2="605.2" y2="1164.2" stroke="#9467bd" class="l"/>
<text x="614.47" y="1168.5" font-size="12.93" textLength="18.56" lengthAdjust="spacingAndGlyphs">full</text>
<line x1="579.2" y1="1182.33" x2="605.2" y2="1182.33" stroke="#8c564b" class="l"/>
<text x="614.65" y="1186.63" font-size="12.93" textLength="36.14" lengthAdjust="spacingAndGlyphs">sd+at</text>
<line x1="579.2" y1="1200.45" x2="605.2" y2="1200.45" stroke="#e377c2" class="l"/>
<text x="614.66" y="1204.75" font-size="12.93" textLength="45.59" lengthAdjust="spacingAndGlyphs">sd+sim</text>
<line x1="579.2" y1="1218.58" x2="605.2" y2="1218.58" stroke="#7f7f7f" class="l"/>
<text x="614.67" y="1222.88" font-size="12.93" textLength="57.92" lengthAdjust="spacingAndGlyphs">self-distill</text>
<line x1="579.2" y1="1236.7" x2="605.2" y2="1236.7" stroke="#bcbd22" class="l"/>
<text x="614.66" y="1241" font-size="12.93" textLength="55.7" lengthAdjust="spacingAndGlyphs">similarity</text>
<text x="329.3" y="1375.8" font-size="24.7" class="pn" textLength="24.2" lengthAdjust="spacingAndGlyphs" stroke="#000" stroke-width="0.35">28</text>
</svg>
</body></html>
